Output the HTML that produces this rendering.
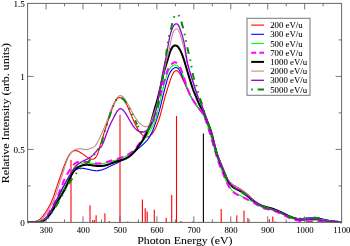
<!DOCTYPE html>
<html><head><meta charset="utf-8"><title>Photon Energy Spectrum</title>
<style>html,body{margin:0;padding:0;background:#fff}svg{display:block}text{font-family:"Liberation Serif","DejaVu Serif",serif;fill:#000;stroke:#000;stroke-width:0.06px}</style></head><body>
<svg width="350" height="246" viewBox="0 0 350 246">
<rect width="350" height="246" fill="#fff"/>
<g><line x1="71.0" y1="222.4" x2="71.0" y2="160" stroke="#ff0000" stroke-width="1.1"/><line x1="90" y1="222.4" x2="90" y2="205.2" stroke="#ff0000" stroke-width="1.1"/><line x1="92.6" y1="222.4" x2="92.6" y2="220.2" stroke="#ff0000" stroke-width="1.1"/><line x1="94.3" y1="222.4" x2="94.3" y2="220" stroke="#ff0000" stroke-width="1.1"/><line x1="96.1" y1="222.4" x2="96.1" y2="215.3" stroke="#ff0000" stroke-width="1.1"/><line x1="104.9" y1="222.4" x2="104.9" y2="213.3" stroke="#ff0000" stroke-width="1.1"/><line x1="109.2" y1="222.4" x2="109.2" y2="221" stroke="#ff0000" stroke-width="1.1"/><line x1="120.0" y1="222.4" x2="120.0" y2="114.8" stroke="#ff0000" stroke-width="1.1"/><line x1="127.8" y1="222.4" x2="127.8" y2="221.6" stroke="#ff0000" stroke-width="1.1"/><line x1="142.4" y1="222.4" x2="142.4" y2="199.4" stroke="#ff0000" stroke-width="1.1"/><line x1="145.2" y1="222.4" x2="145.2" y2="208.2" stroke="#ff0000" stroke-width="1.1"/><line x1="147.2" y1="222.4" x2="147.2" y2="211.5" stroke="#ff0000" stroke-width="1.1"/><line x1="154.3" y1="222.4" x2="154.3" y2="209.8" stroke="#ff0000" stroke-width="1.1"/><line x1="166.2" y1="222.4" x2="166.2" y2="217.8" stroke="#ff0000" stroke-width="1.1"/><line x1="171.7" y1="222.4" x2="171.7" y2="195.1" stroke="#ff0000" stroke-width="1.1"/><line x1="176.5" y1="222.4" x2="176.5" y2="116" stroke="#ff0000" stroke-width="1.1"/><line x1="180.9" y1="222.4" x2="180.9" y2="221" stroke="#ff0000" stroke-width="1.1"/><line x1="192.7" y1="222.4" x2="192.7" y2="221.5" stroke="#ff0000" stroke-width="1.1"/><line x1="203.4" y1="222.4" x2="203.4" y2="133.5" stroke="#000" stroke-width="1.1"/><line x1="221.2" y1="222.4" x2="221.2" y2="209" stroke="#ff0000" stroke-width="1.1"/><line x1="236.8" y1="222.4" x2="236.8" y2="215.2" stroke="#ff0000" stroke-width="1.1"/><line x1="244.0" y1="222.4" x2="244.0" y2="210.6" stroke="#ff0000" stroke-width="1.1"/><line x1="247.9" y1="222.4" x2="247.9" y2="218" stroke="#ff0000" stroke-width="1.1"/><line x1="269.3" y1="222.4" x2="269.3" y2="219.2" stroke="#ff0000" stroke-width="1.1"/><line x1="272.8" y1="222.4" x2="272.8" y2="216.6" stroke="#ff0000" stroke-width="1.1"/><line x1="275.3" y1="222.4" x2="275.3" y2="221.6" stroke="#ff0000" stroke-width="1.1"/><line x1="312.3" y1="222.4" x2="312.3" y2="221" stroke="#ff0000" stroke-width="1.1"/></g>
<g fill="none" stroke-linejoin="round">
<path d="M27.6 222.3 L28.1 222.3 L28.6 222.3 L29.1 222.2 L29.6 222.2 L30.1 222.2 L30.6 222.1 L31.1 222.1 L31.6 222.0 L32.1 222.0 L32.6 221.9 L33.1 221.8 L33.6 221.8 L34.1 221.7 L34.6 221.6 L35.1 221.4 L35.6 221.3 L36.1 221.2 L36.6 221.0 L37.1 220.9 L37.6 220.6 L38.1 220.4 L38.6 220.1 L39.1 219.8 L39.6 219.5 L40.1 219.1 L40.6 218.6 L41.1 218.1 L41.6 217.6 L42.1 217.0 L42.6 216.4 L43.1 215.8 L43.6 215.1 L44.1 214.4 L44.6 213.7 L45.1 213.0 L45.6 212.2 L46.1 211.5 L46.6 210.7 L47.1 209.9 L47.6 209.0 L48.1 208.2 L48.6 207.3 L49.1 206.3 L49.6 205.4 L50.1 204.4 L50.6 203.4 L51.1 202.4 L51.6 201.3 L52.1 200.2 L52.6 199.0 L53.1 197.7 L53.6 196.4 L54.1 195.0 L54.6 193.5 L55.1 192.0 L55.6 190.5 L56.1 188.9 L56.6 187.4 L57.1 185.9 L57.6 184.4 L58.1 182.9 L58.6 181.5 L59.1 180.0 L59.6 178.6 L60.1 177.1 L60.6 175.7 L61.1 174.3 L61.6 172.8 L62.1 171.4 L62.6 170.0 L63.1 168.6 L63.6 167.3 L64.1 165.9 L64.6 164.6 L65.1 163.4 L65.6 162.1 L66.1 161.0 L66.6 159.8 L67.1 158.8 L67.6 157.8 L68.1 156.8 L68.6 155.9 L69.1 155.1 L69.6 154.4 L70.1 153.7 L70.6 153.1 L71.1 152.6 L71.6 152.1 L72.1 151.7 L72.6 151.4 L73.1 151.1 L73.6 150.9 L74.1 150.7 L74.6 150.6 L75.1 150.6 L75.6 150.6 L76.1 150.7 L76.6 150.8 L77.1 150.9 L77.6 151.1 L78.1 151.3 L78.6 151.5 L79.1 151.8 L79.6 152.1 L80.1 152.4 L80.6 152.7 L81.1 153.0 L81.6 153.3 L82.1 153.6 L82.6 153.9 L83.1 154.3 L83.6 154.6 L84.1 155.0 L84.6 155.3 L85.1 155.7 L85.6 156.0 L86.1 156.4 L86.6 156.7 L87.1 157.1 L87.6 157.4 L88.1 157.8 L88.6 158.1 L89.1 158.4 L89.6 158.6 L90.1 158.9 L90.6 159.0 L91.1 159.2 L91.6 159.3 L92.1 159.3 L92.6 159.3 L93.1 159.2 L93.6 159.0 L94.1 158.8 L94.6 158.5 L95.1 158.0 L95.6 157.5 L96.1 156.9 L96.6 156.1 L97.1 155.2 L97.6 154.1 L98.1 152.7 L98.6 151.2 L99.1 149.4 L99.6 147.5 L100.1 145.6 L100.6 143.9 L101.1 142.3 L101.6 140.8 L102.1 139.2 L102.6 137.7 L103.1 136.1 L103.6 134.5 L104.1 132.9 L104.6 131.3 L105.1 129.7 L105.6 128.1 L106.1 126.6 L106.6 125.1 L107.1 123.6 L107.6 122.1 L108.1 120.6 L108.6 119.1 L109.1 117.6 L109.6 116.1 L110.1 114.6 L110.6 113.1 L111.1 111.7 L111.6 110.3 L112.1 108.9 L112.6 107.6 L113.1 106.4 L113.6 105.2 L114.1 104.1 L114.6 103.0 L115.1 102.0 L115.6 101.1 L116.1 100.2 L116.6 99.5 L117.1 98.9 L117.6 98.4 L118.1 98.1 L118.6 97.8 L119.1 97.7 L119.6 97.6 L120.1 97.6 L120.6 97.7 L121.1 97.8 L121.6 98.0 L122.1 98.2 L122.6 98.6 L123.1 99.0 L123.6 99.5 L124.1 100.1 L124.6 100.8 L125.1 101.6 L125.6 102.5 L126.1 103.5 L126.6 104.5 L127.1 105.5 L127.6 106.6 L128.1 107.7 L128.6 108.9 L129.1 110.0 L129.6 111.2 L130.1 112.4 L130.6 113.6 L131.1 114.8 L131.6 116.0 L132.1 117.2 L132.6 118.4 L133.1 119.5 L133.6 120.7 L134.1 121.8 L134.6 122.9 L135.1 124.0 L135.6 125.0 L136.1 126.1 L136.6 127.0 L137.1 128.0 L137.6 128.9 L138.1 129.7 L138.6 130.5 L139.1 131.3 L139.6 132.0 L140.1 132.6 L140.6 133.2 L141.1 133.7 L141.6 134.2 L142.1 134.7 L142.6 135.1 L143.1 135.4 L143.6 135.8 L144.1 136.1 L144.6 136.3 L145.1 136.6 L145.6 136.8 L146.1 136.9 L146.6 137.0 L147.1 137.0 L147.6 137.0 L148.1 136.9 L148.6 136.7 L149.1 136.5 L149.6 136.2 L150.1 135.8 L150.6 135.4 L151.1 134.9 L151.6 134.4 L152.1 133.8 L152.6 133.1 L153.1 132.4 L153.6 131.6 L154.1 130.8 L154.6 129.9 L155.1 128.9 L155.6 127.9 L156.1 126.9 L156.6 125.7 L157.1 124.5 L157.6 123.3 L158.1 121.9 L158.6 120.5 L159.1 119.0 L159.6 117.4 L160.1 115.8 L160.6 114.0 L161.1 112.2 L161.6 110.3 L162.1 108.3 L162.6 106.3 L163.1 104.3 L163.6 102.3 L164.1 100.4 L164.6 98.5 L165.1 96.7 L165.6 95.0 L166.1 93.3 L166.6 91.6 L167.1 90.0 L167.6 88.4 L168.1 86.9 L168.6 85.3 L169.1 83.8 L169.6 82.2 L170.1 80.7 L170.6 79.3 L171.1 77.9 L171.6 76.6 L172.1 75.4 L172.6 74.3 L173.1 73.4 L173.6 72.5 L174.1 71.9 L174.6 71.4 L175.1 71.0 L175.6 70.7 L176.1 70.6 L176.6 70.6 L177.1 70.8 L177.6 71.1 L178.1 71.5 L178.6 72.0 L179.1 72.7 L179.6 73.4 L180.1 74.2 L180.6 75.0 L181.1 75.9 L181.6 76.9 L182.1 77.9 L182.6 79.0 L183.1 80.1 L183.6 81.2 L184.1 82.3 L184.6 83.4 L185.1 84.6 L185.6 85.7 L186.1 86.8 L186.6 87.8 L187.1 88.9 L187.6 89.9 L188.1 91.0 L188.6 92.0 L189.1 93.0 L189.6 94.0 L190.1 95.0 L190.6 95.9 L191.1 96.8 L191.6 97.8 L192.1 98.7 L192.6 99.5 L193.1 100.4 L193.6 101.2 L194.1 102.0 L194.6 102.8 L195.1 103.5 L195.6 104.3 L196.1 105.0 L196.6 105.7 L197.1 106.3 L197.6 107.0 L198.1 107.6 L198.6 108.2 L199.1 108.8 L199.6 109.5 L200.1 110.1 L200.6 110.7 L201.1 111.4 L201.6 112.1 L202.1 112.8 L202.6 113.5 L203.1 114.3 L203.6 115.1 L204.1 115.9 L204.6 116.8 L205.1 117.7 L205.6 118.6 L206.1 119.6 L206.6 120.7 L207.1 121.7 L207.6 122.9 L208.1 124.0 L208.6 125.2 L209.1 126.5 L209.6 127.8 L210.1 129.2 L210.6 130.7 L211.1 132.3 L211.6 134.1 L212.1 135.9 L212.6 137.8 L213.1 139.7 L213.6 141.7 L214.1 143.6 L214.6 145.5 L215.1 147.4 L215.6 149.2 L216.1 150.8 L216.6 152.4 L217.1 153.9 L217.6 155.3 L218.1 156.7 L218.6 158.0 L219.1 159.2 L219.6 160.5 L220.1 161.7 L220.6 162.9 L221.1 164.2 L221.6 165.4 L222.1 166.6 L222.6 167.8 L223.1 169.0 L223.6 170.2 L224.1 171.5 L224.6 172.7 L225.1 173.9 L225.6 175.1 L226.1 176.2 L226.6 177.3 L227.1 178.3 L227.6 179.2 L228.1 180.0 L228.6 180.7 L229.1 181.3 L229.6 181.9 L230.1 182.4 L230.6 182.8 L231.1 183.3 L231.6 183.7 L232.1 184.1 L232.6 184.5 L233.1 184.8 L233.6 185.2 L234.1 185.5 L234.6 185.8 L235.1 186.1 L235.6 186.3 L236.1 186.6 L236.6 186.8 L237.1 187.1 L237.6 187.4 L238.1 187.6 L238.6 187.9 L239.1 188.2 L239.6 188.5 L240.1 188.8 L240.6 189.1 L241.1 189.4 L241.6 189.8 L242.1 190.1 L242.6 190.5 L243.1 190.9 L243.6 191.2 L244.1 191.6 L244.6 192.0 L245.1 192.4 L245.6 192.8 L246.1 193.2 L246.6 193.6 L247.1 194.0 L247.6 194.4 L248.1 194.8 L248.6 195.3 L249.1 195.7 L249.6 196.2 L250.1 196.7 L250.6 197.2 L251.1 197.8 L251.6 198.4 L252.1 199.0 L252.6 199.5 L253.1 200.1 L253.6 200.6 L254.1 201.1 L254.6 201.6 L255.1 202.0 L255.6 202.4 L256.1 202.8 L256.6 203.2 L257.1 203.5 L257.6 203.8 L258.1 204.1 L258.6 204.4 L259.1 204.6 L259.6 204.9 L260.1 205.1 L260.6 205.3 L261.1 205.6 L261.6 205.8 L262.1 206.0 L262.6 206.1 L263.1 206.3 L263.6 206.5 L264.1 206.7 L264.6 206.8 L265.1 207.0 L265.6 207.2 L266.1 207.3 L266.6 207.5 L267.1 207.6 L267.6 207.8 L268.1 207.9 L268.6 208.1 L269.1 208.2 L269.6 208.4 L270.1 208.5 L270.6 208.7 L271.1 208.8 L271.6 209.0 L272.1 209.2 L272.6 209.3 L273.1 209.5 L273.6 209.7 L274.1 209.9 L274.6 210.0 L275.1 210.2 L275.6 210.4 L276.1 210.6 L276.6 210.8 L277.1 211.0 L277.6 211.2 L278.1 211.4 L278.6 211.6 L279.1 211.8 L279.6 212.1 L280.1 212.3 L280.6 212.5 L281.1 212.8 L281.6 213.0 L282.1 213.2 L282.6 213.5 L283.1 213.7 L283.6 213.9 L284.1 214.2 L284.6 214.4 L285.1 214.7 L285.6 214.9 L286.1 215.1 L286.6 215.4 L287.1 215.6 L287.6 215.8 L288.1 216.0 L288.6 216.2 L289.1 216.5 L289.6 216.7 L290.1 216.9 L290.6 217.1 L291.1 217.2 L291.6 217.4 L292.1 217.6 L292.6 217.8 L293.1 217.9 L293.6 218.1 L294.1 218.2 L294.6 218.3 L295.1 218.4 L295.6 218.5 L296.1 218.6 L296.6 218.7 L297.1 218.8 L297.6 218.8 L298.1 218.9 L298.6 218.9 L299.1 218.9 L299.6 219.0 L300.1 219.0 L300.6 219.0 L301.1 219.0 L301.6 219.0 L302.1 219.0 L302.6 219.0 L303.1 219.0 L303.6 219.0 L304.1 219.0 L304.6 219.0 L305.1 219.0 L305.6 218.9 L306.1 218.9 L306.6 218.9 L307.1 218.9 L307.6 218.9 L308.1 218.8 L308.6 218.8 L309.1 218.8 L309.6 218.8 L310.1 218.7 L310.6 218.7 L311.1 218.7 L311.6 218.7 L312.1 218.7 L312.6 218.7 L313.1 218.6 L313.6 218.6 L314.1 218.7 L314.6 218.7 L315.1 218.7 L315.6 218.7 L316.1 218.7 L316.6 218.8 L317.1 218.8 L317.6 218.9 L318.1 218.9 L318.6 219.0 L319.1 219.1 L319.6 219.1 L320.1 219.2 L320.6 219.3 L321.1 219.4 L321.6 219.5 L322.1 219.6 L322.6 219.7 L323.1 219.8 L323.6 219.9 L324.1 220.0 L324.6 220.1 L325.1 220.2 L325.6 220.3 L326.1 220.3 L326.6 220.4 L327.1 220.5 L327.6 220.6 L328.1 220.7 L328.6 220.7 L329.1 220.8 L329.6 220.9 L330.1 221.0 L330.6 221.0 L331.1 221.1 L331.6 221.2 L332.1 221.2 L332.6 221.3 L333.1 221.3 L333.6 221.4 L334.1 221.4 L334.6 221.5 L335.1 221.6 L335.6 221.6 L336.1 221.7 L336.6 221.7 L337.1 221.8 L337.6 221.8 L338.1 221.9 L338.6 221.9 L339.1 222.0 L339.6 222.0 L340.1 222.1 L340.6 222.1 L341.1 222.2 L341.5 222.2" stroke="#ff0000" stroke-width="1.1"/>
<path d="M27.6 222.3 L28.1 222.2 L28.6 222.1 L29.1 222.0 L29.6 222.0 L30.1 221.9 L30.6 221.9 L31.1 221.9 L31.6 221.9 L32.1 221.9 L32.6 221.9 L33.1 221.9 L33.6 222.0 L34.1 222.0 L34.6 222.0 L35.1 222.0 L35.6 222.0 L36.1 222.0 L36.6 222.0 L37.1 222.0 L37.6 222.0 L38.1 221.9 L38.6 221.9 L39.1 221.8 L39.6 221.7 L40.1 221.6 L40.6 221.4 L41.1 221.2 L41.6 221.0 L42.1 220.8 L42.6 220.6 L43.1 220.3 L43.6 219.9 L44.1 219.6 L44.6 219.2 L45.1 218.7 L45.6 218.2 L46.1 217.7 L46.6 217.1 L47.1 216.5 L47.6 215.8 L48.1 215.1 L48.6 214.4 L49.1 213.7 L49.6 212.9 L50.1 212.1 L50.6 211.3 L51.1 210.5 L51.6 209.7 L52.1 208.8 L52.6 207.9 L53.1 207.0 L53.6 206.0 L54.1 205.0 L54.6 204.0 L55.1 203.0 L55.6 202.0 L56.1 201.1 L56.6 200.1 L57.1 199.2 L57.6 198.3 L58.1 197.4 L58.6 196.5 L59.1 195.6 L59.6 194.7 L60.1 193.8 L60.6 192.8 L61.1 191.8 L61.6 190.7 L62.1 189.6 L62.6 188.5 L63.1 187.4 L63.6 186.4 L64.1 185.3 L64.6 184.3 L65.1 183.3 L65.6 182.4 L66.1 181.5 L66.6 180.7 L67.1 179.9 L67.6 179.2 L68.1 178.5 L68.6 177.8 L69.1 177.2 L69.6 176.5 L70.1 175.9 L70.6 175.2 L71.1 174.6 L71.6 174.0 L72.1 173.4 L72.6 172.8 L73.1 172.3 L73.6 171.8 L74.1 171.3 L74.6 170.8 L75.1 170.4 L75.6 170.1 L76.1 169.7 L76.6 169.4 L77.1 169.2 L77.6 169.0 L78.1 168.8 L78.6 168.6 L79.1 168.5 L79.6 168.4 L80.1 168.4 L80.6 168.3 L81.1 168.3 L81.6 168.3 L82.1 168.3 L82.6 168.3 L83.1 168.4 L83.6 168.4 L84.1 168.5 L84.6 168.6 L85.1 168.7 L85.6 168.8 L86.1 168.9 L86.6 169.0 L87.1 169.1 L87.6 169.2 L88.1 169.3 L88.6 169.4 L89.1 169.6 L89.6 169.7 L90.1 169.8 L90.6 169.9 L91.1 170.0 L91.6 170.1 L92.1 170.2 L92.6 170.3 L93.1 170.4 L93.6 170.5 L94.1 170.5 L94.6 170.6 L95.1 170.6 L95.6 170.7 L96.1 170.7 L96.6 170.7 L97.1 170.7 L97.6 170.7 L98.1 170.6 L98.6 170.6 L99.1 170.5 L99.6 170.4 L100.1 170.3 L100.6 170.2 L101.1 170.1 L101.6 170.0 L102.1 169.8 L102.6 169.6 L103.1 169.5 L103.6 169.3 L104.1 169.1 L104.6 168.9 L105.1 168.7 L105.6 168.4 L106.1 168.2 L106.6 168.0 L107.1 167.7 L107.6 167.5 L108.1 167.2 L108.6 167.0 L109.1 166.7 L109.6 166.5 L110.1 166.2 L110.6 166.0 L111.1 165.8 L111.6 165.5 L112.1 165.3 L112.6 165.0 L113.1 164.8 L113.6 164.6 L114.1 164.4 L114.6 164.1 L115.1 163.9 L115.6 163.7 L116.1 163.4 L116.6 163.2 L117.1 163.0 L117.6 162.7 L118.1 162.4 L118.6 162.2 L119.1 161.9 L119.6 161.6 L120.1 161.4 L120.6 161.1 L121.1 160.8 L121.6 160.5 L122.1 160.2 L122.6 159.9 L123.1 159.6 L123.6 159.3 L124.1 159.0 L124.6 158.7 L125.1 158.4 L125.6 158.1 L126.1 157.8 L126.6 157.5 L127.1 157.2 L127.6 156.9 L128.1 156.6 L128.6 156.3 L129.1 156.0 L129.6 155.7 L130.1 155.3 L130.6 155.0 L131.1 154.6 L131.6 154.3 L132.1 153.9 L132.6 153.5 L133.1 153.2 L133.6 152.8 L134.1 152.3 L134.6 151.9 L135.1 151.5 L135.6 151.1 L136.1 150.6 L136.6 150.2 L137.1 149.7 L137.6 149.3 L138.1 148.8 L138.6 148.4 L139.1 147.9 L139.6 147.5 L140.1 147.0 L140.6 146.6 L141.1 146.1 L141.6 145.7 L142.1 145.2 L142.6 144.8 L143.1 144.3 L143.6 143.8 L144.1 143.4 L144.6 142.9 L145.1 142.4 L145.6 141.9 L146.1 141.4 L146.6 140.9 L147.1 140.3 L147.6 139.7 L148.1 139.0 L148.6 138.4 L149.1 137.6 L149.6 136.8 L150.1 136.0 L150.6 135.0 L151.1 134.1 L151.6 133.0 L152.1 131.9 L152.6 130.8 L153.1 129.5 L153.6 128.2 L154.1 126.9 L154.6 125.5 L155.1 124.1 L155.6 122.7 L156.1 121.2 L156.6 119.7 L157.1 118.2 L157.6 116.7 L158.1 115.1 L158.6 113.4 L159.1 111.7 L159.6 109.8 L160.1 107.9 L160.6 105.9 L161.1 103.8 L161.6 101.7 L162.1 99.6 L162.6 97.5 L163.1 95.5 L163.6 93.5 L164.1 91.5 L164.6 89.6 L165.1 87.6 L165.6 85.7 L166.1 83.8 L166.6 82.0 L167.1 80.2 L167.6 78.6 L168.1 77.1 L168.6 75.7 L169.1 74.5 L169.6 73.4 L170.1 72.5 L170.6 71.6 L171.1 70.9 L171.6 70.2 L172.1 69.7 L172.6 69.2 L173.1 68.7 L173.6 68.4 L174.1 68.1 L174.6 67.8 L175.1 67.7 L175.6 67.6 L176.1 67.6 L176.6 67.7 L177.1 67.8 L177.6 68.1 L178.1 68.5 L178.6 69.0 L179.1 69.7 L179.6 70.5 L180.1 71.4 L180.6 72.5 L181.1 73.6 L181.6 74.7 L182.1 75.8 L182.6 76.9 L183.1 77.9 L183.6 79.0 L184.1 80.1 L184.6 81.2 L185.1 82.5 L185.6 83.9 L186.1 85.3 L186.6 86.7 L187.1 88.1 L187.6 89.5 L188.1 90.8 L188.6 92.0 L189.1 93.2 L189.6 94.3 L190.1 95.3 L190.6 96.3 L191.1 97.2 L191.6 98.1 L192.1 99.0 L192.6 99.8 L193.1 100.6 L193.6 101.4 L194.1 102.2 L194.6 102.9 L195.1 103.6 L195.6 104.3 L196.1 105.0 L196.6 105.7 L197.1 106.3 L197.6 107.0 L198.1 107.6 L198.6 108.2 L199.1 108.9 L199.6 109.5 L200.1 110.1 L200.6 110.8 L201.1 111.4 L201.6 112.0 L202.1 112.6 L202.6 113.3 L203.1 114.0 L203.6 114.7 L204.1 115.5 L204.6 116.3 L205.1 117.2 L205.6 118.1 L206.1 119.1 L206.6 120.1 L207.1 121.2 L207.6 122.4 L208.1 123.5 L208.6 124.8 L209.1 126.0 L209.6 127.3 L210.1 128.6 L210.6 130.1 L211.1 131.7 L211.6 133.4 L212.1 135.2 L212.6 137.2 L213.1 139.2 L213.6 141.2 L214.1 143.3 L214.6 145.3 L215.1 147.2 L215.6 149.1 L216.1 150.9 L216.6 152.6 L217.1 154.2 L217.6 155.7 L218.1 157.1 L218.6 158.4 L219.1 159.7 L219.6 161.0 L220.1 162.3 L220.6 163.5 L221.1 164.7 L221.6 165.9 L222.1 167.1 L222.6 168.3 L223.1 169.5 L223.6 170.7 L224.1 172.0 L224.6 173.3 L225.1 174.5 L225.6 175.7 L226.1 176.9 L226.6 178.1 L227.1 179.2 L227.6 180.2 L228.1 181.2 L228.6 182.0 L229.1 182.8 L229.6 183.6 L230.1 184.3 L230.6 184.9 L231.1 185.5 L231.6 186.0 L232.1 186.5 L232.6 186.9 L233.1 187.3 L233.6 187.7 L234.1 188.1 L234.6 188.4 L235.1 188.7 L235.6 189.0 L236.1 189.3 L236.6 189.5 L237.1 189.8 L237.6 190.0 L238.1 190.2 L238.6 190.5 L239.1 190.7 L239.6 191.0 L240.1 191.3 L240.6 191.5 L241.1 191.8 L241.6 192.1 L242.1 192.4 L242.6 192.8 L243.1 193.1 L243.6 193.5 L244.1 193.8 L244.6 194.2 L245.1 194.6 L245.6 194.9 L246.1 195.3 L246.6 195.7 L247.1 196.1 L247.6 196.5 L248.1 196.9 L248.6 197.3 L249.1 197.8 L249.6 198.2 L250.1 198.6 L250.6 199.0 L251.1 199.4 L251.6 199.8 L252.1 200.2 L252.6 200.6 L253.1 201.0 L253.6 201.4 L254.1 201.8 L254.6 202.2 L255.1 202.6 L255.6 202.9 L256.1 203.3 L256.6 203.6 L257.1 204.0 L257.6 204.3 L258.1 204.6 L258.6 204.9 L259.1 205.2 L259.6 205.5 L260.1 205.7 L260.6 206.0 L261.1 206.2 L261.6 206.5 L262.1 206.7 L262.6 206.9 L263.1 207.0 L263.6 207.2 L264.1 207.4 L264.6 207.5 L265.1 207.7 L265.6 207.8 L266.1 207.9 L266.6 208.1 L267.1 208.2 L267.6 208.3 L268.1 208.4 L268.6 208.6 L269.1 208.7 L269.6 208.8 L270.1 208.9 L270.6 209.1 L271.1 209.2 L271.6 209.3 L272.1 209.5 L272.6 209.6 L273.1 209.8 L273.6 209.9 L274.1 210.1 L274.6 210.3 L275.1 210.5 L275.6 210.6 L276.1 210.8 L276.6 211.0 L277.1 211.2 L277.6 211.4 L278.1 211.6 L278.6 211.8 L279.1 212.0 L279.6 212.3 L280.1 212.5 L280.6 212.7 L281.1 213.0 L281.6 213.2 L282.1 213.4 L282.6 213.7 L283.1 213.9 L283.6 214.1 L284.1 214.4 L284.6 214.6 L285.1 214.9 L285.6 215.1 L286.1 215.3 L286.6 215.6 L287.1 215.8 L287.6 216.0 L288.1 216.2 L288.6 216.4 L289.1 216.6 L289.6 216.8 L290.1 217.0 L290.6 217.2 L291.1 217.4 L291.6 217.6 L292.1 217.7 L292.6 217.9 L293.1 218.0 L293.6 218.1 L294.1 218.2 L294.6 218.3 L295.1 218.4 L295.6 218.5 L296.1 218.5 L296.6 218.6 L297.1 218.6 L297.6 218.6 L298.1 218.6 L298.6 218.6 L299.1 218.6 L299.6 218.6 L300.1 218.6 L300.6 218.6 L301.1 218.6 L301.6 218.5 L302.1 218.5 L302.6 218.5 L303.1 218.4 L303.6 218.4 L304.1 218.3 L304.6 218.3 L305.1 218.2 L305.6 218.2 L306.1 218.1 L306.6 218.1 L307.1 218.0 L307.6 218.0 L308.1 218.0 L308.6 217.9 L309.1 217.9 L309.6 217.8 L310.1 217.8 L310.6 217.8 L311.1 217.7 L311.6 217.7 L312.1 217.7 L312.6 217.7 L313.1 217.7 L313.6 217.7 L314.1 217.7 L314.6 217.7 L315.1 217.7 L315.6 217.8 L316.1 217.8 L316.6 217.9 L317.1 217.9 L317.6 218.0 L318.1 218.1 L318.6 218.1 L319.1 218.2 L319.6 218.3 L320.1 218.4 L320.6 218.6 L321.1 218.7 L321.6 218.8 L322.1 218.9 L322.6 219.0 L323.1 219.2 L323.6 219.3 L324.1 219.4 L324.6 219.5 L325.1 219.7 L325.6 219.8 L326.1 219.9 L326.6 220.0 L327.1 220.1 L327.6 220.2 L328.1 220.3 L328.6 220.4 L329.1 220.5 L329.6 220.6 L330.1 220.7 L330.6 220.8 L331.1 220.9 L331.6 221.0 L332.1 221.1 L332.6 221.1 L333.1 221.2 L333.6 221.3 L334.1 221.4 L334.6 221.4 L335.1 221.5 L335.6 221.6 L336.1 221.6 L336.6 221.7 L337.1 221.8 L337.6 221.8 L338.1 221.9 L338.6 221.9 L339.1 222.0 L339.6 222.0 L340.1 222.1 L340.6 222.1 L341.1 222.2 L341.5 222.2" stroke="#0000ff" stroke-width="1.1"/>
<path d="M27.6 222.3 L28.1 222.2 L28.6 222.1 L29.1 222.0 L29.6 221.9 L30.1 221.9 L30.6 221.9 L31.1 221.9 L31.6 221.9 L32.1 221.9 L32.6 221.9 L33.1 221.9 L33.6 221.9 L34.1 222.0 L34.6 222.0 L35.1 222.0 L35.6 222.0 L36.1 222.0 L36.6 222.0 L37.1 222.0 L37.6 222.0 L38.1 222.0 L38.6 222.0 L39.1 221.9 L39.6 221.8 L40.1 221.7 L40.6 221.6 L41.1 221.4 L41.6 221.3 L42.1 221.1 L42.6 220.8 L43.1 220.5 L43.6 220.2 L44.1 219.9 L44.6 219.5 L45.1 219.1 L45.6 218.7 L46.1 218.2 L46.6 217.7 L47.1 217.1 L47.6 216.5 L48.1 215.9 L48.6 215.2 L49.1 214.5 L49.6 213.8 L50.1 213.1 L50.6 212.3 L51.1 211.5 L51.6 210.7 L52.1 209.8 L52.6 208.9 L53.1 208.1 L53.6 207.2 L54.1 206.2 L54.6 205.3 L55.1 204.4 L55.6 203.4 L56.1 202.5 L56.6 201.6 L57.1 200.6 L57.6 199.7 L58.1 198.9 L58.6 198.0 L59.1 197.2 L59.6 196.3 L60.1 195.5 L60.6 194.7 L61.1 193.9 L61.6 193.0 L62.1 192.2 L62.6 191.3 L63.1 190.4 L63.6 189.4 L64.1 188.5 L64.6 187.5 L65.1 186.5 L65.6 185.4 L66.1 184.4 L66.6 183.3 L67.1 182.2 L67.6 181.1 L68.1 180.0 L68.6 178.9 L69.1 177.8 L69.6 176.6 L70.1 175.5 L70.6 174.4 L71.1 173.3 L71.6 172.3 L72.1 171.2 L72.6 170.3 L73.1 169.3 L73.6 168.4 L74.1 167.6 L74.6 166.9 L75.1 166.2 L75.6 165.6 L76.1 165.0 L76.6 164.6 L77.1 164.2 L77.6 163.9 L78.1 163.7 L78.6 163.6 L79.1 163.5 L79.6 163.4 L80.1 163.3 L80.6 163.3 L81.1 163.3 L81.6 163.3 L82.1 163.2 L82.6 163.2 L83.1 163.2 L83.6 163.1 L84.1 163.1 L84.6 163.1 L85.1 163.0 L85.6 163.0 L86.1 163.0 L86.6 163.0 L87.1 163.0 L87.6 163.0 L88.1 163.0 L88.6 163.0 L89.1 163.1 L89.6 163.1 L90.1 163.2 L90.6 163.2 L91.1 163.3 L91.6 163.3 L92.1 163.4 L92.6 163.5 L93.1 163.6 L93.6 163.6 L94.1 163.7 L94.6 163.8 L95.1 163.8 L95.6 163.9 L96.1 163.9 L96.6 164.0 L97.1 164.0 L97.6 164.0 L98.1 164.0 L98.6 164.0 L99.1 164.0 L99.6 164.0 L100.1 164.0 L100.6 164.0 L101.1 163.9 L101.6 163.8 L102.1 163.8 L102.6 163.7 L103.1 163.6 L103.6 163.5 L104.1 163.4 L104.6 163.3 L105.1 163.2 L105.6 163.1 L106.1 162.9 L106.6 162.8 L107.1 162.6 L107.6 162.5 L108.1 162.4 L108.6 162.2 L109.1 162.1 L109.6 161.9 L110.1 161.8 L110.6 161.6 L111.1 161.5 L111.6 161.3 L112.1 161.2 L112.6 161.0 L113.1 160.9 L113.6 160.8 L114.1 160.6 L114.6 160.5 L115.1 160.3 L115.6 160.2 L116.1 160.1 L116.6 159.9 L117.1 159.8 L117.6 159.6 L118.1 159.5 L118.6 159.3 L119.1 159.1 L119.6 158.9 L120.1 158.8 L120.6 158.6 L121.1 158.4 L121.6 158.2 L122.1 158.0 L122.6 157.8 L123.1 157.5 L123.6 157.3 L124.1 157.1 L124.6 156.8 L125.1 156.6 L125.6 156.4 L126.1 156.1 L126.6 155.9 L127.1 155.6 L127.6 155.4 L128.1 155.1 L128.6 154.8 L129.1 154.6 L129.6 154.3 L130.1 154.0 L130.6 153.7 L131.1 153.4 L131.6 153.1 L132.1 152.7 L132.6 152.3 L133.1 151.9 L133.6 151.5 L134.1 151.0 L134.6 150.5 L135.1 150.0 L135.6 149.5 L136.1 148.9 L136.6 148.4 L137.1 147.9 L137.6 147.4 L138.1 146.9 L138.6 146.4 L139.1 145.9 L139.6 145.4 L140.1 144.8 L140.6 144.3 L141.1 143.7 L141.6 143.1 L142.1 142.5 L142.6 141.8 L143.1 141.2 L143.6 140.5 L144.1 139.8 L144.6 139.0 L145.1 138.3 L145.6 137.6 L146.1 136.9 L146.6 136.1 L147.1 135.4 L147.6 134.7 L148.1 134.0 L148.6 133.2 L149.1 132.5 L149.6 131.7 L150.1 130.8 L150.6 129.9 L151.1 129.0 L151.6 128.1 L152.1 127.2 L152.6 126.2 L153.1 125.3 L153.6 124.4 L154.1 123.4 L154.6 122.3 L155.1 121.0 L155.6 119.5 L156.1 117.7 L156.6 115.8 L157.1 113.8 L157.6 111.7 L158.1 109.6 L158.6 107.5 L159.1 105.5 L159.6 103.4 L160.1 101.3 L160.6 99.1 L161.1 96.9 L161.6 94.7 L162.1 92.5 L162.6 90.4 L163.1 88.4 L163.6 86.4 L164.1 84.6 L164.6 82.8 L165.1 81.0 L165.6 79.3 L166.1 77.7 L166.6 76.1 L167.1 74.6 L167.6 73.2 L168.1 71.9 L168.6 70.8 L169.1 69.8 L169.6 69.0 L170.1 68.2 L170.6 67.6 L171.1 67.1 L171.6 66.6 L172.1 66.2 L172.6 65.8 L173.1 65.5 L173.6 65.3 L174.1 65.1 L174.6 65.0 L175.1 65.0 L175.6 65.1 L176.1 65.2 L176.6 65.4 L177.1 65.7 L177.6 66.1 L178.1 66.5 L178.6 67.0 L179.1 67.6 L179.6 68.2 L180.1 68.9 L180.6 69.7 L181.1 70.7 L181.6 71.7 L182.1 72.9 L182.6 74.2 L183.1 75.5 L183.6 77.0 L184.1 78.5 L184.6 80.0 L185.1 81.6 L185.6 83.1 L186.1 84.7 L186.6 86.3 L187.1 87.7 L187.6 89.2 L188.1 90.5 L188.6 91.8 L189.1 93.0 L189.6 94.1 L190.1 95.1 L190.6 96.1 L191.1 97.1 L191.6 97.9 L192.1 98.8 L192.6 99.7 L193.1 100.5 L193.6 101.3 L194.1 102.0 L194.6 102.8 L195.1 103.5 L195.6 104.2 L196.1 104.9 L196.6 105.5 L197.1 106.2 L197.6 106.8 L198.1 107.5 L198.6 108.1 L199.1 108.7 L199.6 109.4 L200.1 110.0 L200.6 110.7 L201.1 111.4 L201.6 112.2 L202.1 112.9 L202.6 113.8 L203.1 114.7 L203.6 115.6 L204.1 116.6 L204.6 117.7 L205.1 118.9 L205.6 120.2 L206.1 121.5 L206.6 122.9 L207.1 124.4 L207.6 125.9 L208.1 127.5 L208.6 129.1 L209.1 130.7 L209.6 132.3 L210.1 134.0 L210.6 135.6 L211.1 137.3 L211.6 139.0 L212.1 140.7 L212.6 142.4 L213.1 144.2 L213.6 145.9 L214.1 147.6 L214.6 149.3 L215.1 151.1 L215.6 152.8 L216.1 154.5 L216.6 156.2 L217.1 157.8 L217.6 159.4 L218.1 160.9 L218.6 162.4 L219.1 163.7 L219.6 165.1 L220.1 166.3 L220.6 167.6 L221.1 168.8 L221.6 170.0 L222.1 171.2 L222.6 172.5 L223.1 173.7 L223.6 174.9 L224.1 176.2 L224.6 177.4 L225.1 178.5 L225.6 179.7 L226.1 180.8 L226.6 181.8 L227.1 182.8 L227.6 183.8 L228.1 184.7 L228.6 185.6 L229.1 186.4 L229.6 187.2 L230.1 187.9 L230.6 188.6 L231.1 189.2 L231.6 189.8 L232.1 190.4 L232.6 190.9 L233.1 191.3 L233.6 191.7 L234.1 192.1 L234.6 192.5 L235.1 192.9 L235.6 193.2 L236.1 193.5 L236.6 193.8 L237.1 194.1 L237.6 194.3 L238.1 194.6 L238.6 194.8 L239.1 195.1 L239.6 195.3 L240.1 195.5 L240.6 195.8 L241.1 196.0 L241.6 196.2 L242.1 196.4 L242.6 196.7 L243.1 196.9 L243.6 197.1 L244.1 197.4 L244.6 197.7 L245.1 197.9 L245.6 198.2 L246.1 198.5 L246.6 198.7 L247.1 199.0 L247.6 199.2 L248.1 199.5 L248.6 199.7 L249.1 200.0 L249.6 200.2 L250.1 200.4 L250.6 200.7 L251.1 200.9 L251.6 201.1 L252.1 201.4 L252.6 201.6 L253.1 201.9 L253.6 202.2 L254.1 202.5 L254.6 202.8 L255.1 203.1 L255.6 203.4 L256.1 203.7 L256.6 204.0 L257.1 204.3 L257.6 204.7 L258.1 205.0 L258.6 205.3 L259.1 205.6 L259.6 205.9 L260.1 206.2 L260.6 206.5 L261.1 206.7 L261.6 207.0 L262.1 207.2 L262.6 207.4 L263.1 207.6 L263.6 207.7 L264.1 207.9 L264.6 208.0 L265.1 208.2 L265.6 208.3 L266.1 208.4 L266.6 208.5 L267.1 208.7 L267.6 208.8 L268.1 208.9 L268.6 209.0 L269.1 209.1 L269.6 209.2 L270.1 209.3 L270.6 209.5 L271.1 209.6 L271.6 209.7 L272.1 209.9 L272.6 210.0 L273.1 210.2 L273.6 210.4 L274.1 210.5 L274.6 210.7 L275.1 210.9 L275.6 211.1 L276.1 211.3 L276.6 211.5 L277.1 211.7 L277.6 211.9 L278.1 212.1 L278.6 212.3 L279.1 212.6 L279.6 212.8 L280.1 213.0 L280.6 213.3 L281.1 213.5 L281.6 213.7 L282.1 214.0 L282.6 214.2 L283.1 214.5 L283.6 214.7 L284.1 214.9 L284.6 215.2 L285.1 215.4 L285.6 215.7 L286.1 215.9 L286.6 216.2 L287.1 216.4 L287.6 216.6 L288.1 216.8 L288.6 217.1 L289.1 217.3 L289.6 217.5 L290.1 217.7 L290.6 217.9 L291.1 218.1 L291.6 218.3 L292.1 218.4 L292.6 218.6 L293.1 218.7 L293.6 218.9 L294.1 219.0 L294.6 219.1 L295.1 219.2 L295.6 219.3 L296.1 219.4 L296.6 219.5 L297.1 219.6 L297.6 219.7 L298.1 219.8 L298.6 219.8 L299.1 219.9 L299.6 220.0 L300.1 220.0 L300.6 220.1 L301.1 220.1 L301.6 220.2 L302.1 220.2 L302.6 220.2 L303.1 220.3 L303.6 220.3 L304.1 220.3 L304.6 220.3 L305.1 220.3 L305.6 220.3 L306.1 220.3 L306.6 220.3 L307.1 220.3 L307.6 220.3 L308.1 220.3 L308.6 220.3 L309.1 220.3 L309.6 220.2 L310.1 220.2 L310.6 220.2 L311.1 220.2 L311.6 220.2 L312.1 220.2 L312.6 220.2 L313.1 220.2 L313.6 220.2 L314.1 220.2 L314.6 220.2 L315.1 220.2 L315.6 220.2 L316.1 220.2 L316.6 220.3 L317.1 220.3 L317.6 220.3 L318.1 220.3 L318.6 220.3 L319.1 220.4 L319.6 220.4 L320.1 220.4 L320.6 220.5 L321.1 220.5 L321.6 220.5 L322.1 220.6 L322.6 220.6 L323.1 220.6 L323.6 220.7 L324.1 220.7 L324.6 220.8 L325.1 220.8 L325.6 220.9 L326.1 220.9 L326.6 220.9 L327.1 221.0 L327.6 221.0 L328.1 221.1 L328.6 221.1 L329.1 221.2 L329.6 221.2 L330.1 221.3 L330.6 221.3 L331.1 221.4 L331.6 221.4 L332.1 221.5 L332.6 221.5 L333.1 221.6 L333.6 221.6 L334.1 221.6 L334.6 221.7 L335.1 221.7 L335.6 221.8 L336.1 221.8 L336.6 221.9 L337.1 221.9 L337.6 221.9 L338.1 222.0 L338.6 222.0 L339.1 222.1 L339.6 222.1 L340.1 222.1 L340.6 222.1 L341.1 222.2 L341.5 222.2" stroke="#00ff00" stroke-width="1.1"/>
<path d="M27.6 222.3 L28.1 222.2 L28.6 222.1 L29.1 222.0 L29.6 222.0 L30.1 221.9 L30.6 221.9 L31.1 221.9 L31.6 221.9 L32.1 221.9 L32.6 221.9 L33.1 221.9 L33.6 222.0 L34.1 222.0 L34.6 222.0 L35.1 222.0 L35.6 222.0 L36.1 222.0 L36.6 222.0 L37.1 222.0 L37.6 221.9 L38.1 221.9 L38.6 221.8 L39.1 221.7 L39.6 221.6 L40.1 221.4 L40.6 221.3 L41.1 221.1 L41.6 220.8 L42.1 220.6 L42.6 220.3 L43.1 220.0 L43.6 219.6 L44.1 219.2 L44.6 218.7 L45.1 218.2 L45.6 217.7 L46.1 217.1 L46.6 216.5 L47.1 215.8 L47.6 215.1 L48.1 214.3 L48.6 213.5 L49.1 212.7 L49.6 211.9 L50.1 211.0 L50.6 210.1 L51.1 209.2 L51.6 208.3 L52.1 207.4 L52.6 206.4 L53.1 205.5 L53.6 204.5 L54.1 203.5 L54.6 202.5 L55.1 201.5 L55.6 200.5 L56.1 199.5 L56.6 198.4 L57.1 197.4 L57.6 196.3 L58.1 195.1 L58.6 193.9 L59.1 192.7 L59.6 191.4 L60.1 190.1 L60.6 188.8 L61.1 187.5 L61.6 186.1 L62.1 184.8 L62.6 183.6 L63.1 182.3 L63.6 181.2 L64.1 180.1 L64.6 179.0 L65.1 178.0 L65.6 177.1 L66.1 176.2 L66.6 175.3 L67.1 174.4 L67.6 173.6 L68.1 172.7 L68.6 171.9 L69.1 171.1 L69.6 170.2 L70.1 169.4 L70.6 168.6 L71.1 167.8 L71.6 167.1 L72.1 166.4 L72.6 165.7 L73.1 165.1 L73.6 164.6 L74.1 164.1 L74.6 163.6 L75.1 163.3 L75.6 163.0 L76.1 162.7 L76.6 162.5 L77.1 162.3 L77.6 162.2 L78.1 162.1 L78.6 162.0 L79.1 162.0 L79.6 161.9 L80.1 161.9 L80.6 161.9 L81.1 161.9 L81.6 161.8 L82.1 161.8 L82.6 161.8 L83.1 161.8 L83.6 161.8 L84.1 161.8 L84.6 161.8 L85.1 161.8 L85.6 161.9 L86.1 161.9 L86.6 161.9 L87.1 161.9 L87.6 162.0 L88.1 162.0 L88.6 162.1 L89.1 162.1 L89.6 162.2 L90.1 162.3 L90.6 162.3 L91.1 162.4 L91.6 162.5 L92.1 162.6 L92.6 162.7 L93.1 162.8 L93.6 162.9 L94.1 163.0 L94.6 163.1 L95.1 163.2 L95.6 163.3 L96.1 163.3 L96.6 163.4 L97.1 163.5 L97.6 163.5 L98.1 163.5 L98.6 163.5 L99.1 163.5 L99.6 163.5 L100.1 163.4 L100.6 163.4 L101.1 163.3 L101.6 163.2 L102.1 163.2 L102.6 163.1 L103.1 163.0 L103.6 162.8 L104.1 162.7 L104.6 162.6 L105.1 162.5 L105.6 162.3 L106.1 162.2 L106.6 162.1 L107.1 161.9 L107.6 161.8 L108.1 161.6 L108.6 161.5 L109.1 161.3 L109.6 161.1 L110.1 161.0 L110.6 160.8 L111.1 160.7 L111.6 160.5 L112.1 160.4 L112.6 160.2 L113.1 160.1 L113.6 159.9 L114.1 159.8 L114.6 159.7 L115.1 159.5 L115.6 159.4 L116.1 159.2 L116.6 159.1 L117.1 158.9 L117.6 158.8 L118.1 158.6 L118.6 158.5 L119.1 158.3 L119.6 158.1 L120.1 158.0 L120.6 157.8 L121.1 157.6 L121.6 157.4 L122.1 157.2 L122.6 157.0 L123.1 156.8 L123.6 156.6 L124.1 156.4 L124.6 156.2 L125.1 155.9 L125.6 155.7 L126.1 155.5 L126.6 155.2 L127.1 155.0 L127.6 154.7 L128.1 154.4 L128.6 154.1 L129.1 153.8 L129.6 153.5 L130.1 153.2 L130.6 152.9 L131.1 152.5 L131.6 152.2 L132.1 151.8 L132.6 151.4 L133.1 150.9 L133.6 150.4 L134.1 149.9 L134.6 149.4 L135.1 148.9 L135.6 148.3 L136.1 147.7 L136.6 147.1 L137.1 146.5 L137.6 145.9 L138.1 145.2 L138.6 144.5 L139.1 143.8 L139.6 143.1 L140.1 142.4 L140.6 141.6 L141.1 140.8 L141.6 140.1 L142.1 139.3 L142.6 138.4 L143.1 137.6 L143.6 136.8 L144.1 135.9 L144.6 135.1 L145.1 134.2 L145.6 133.3 L146.1 132.4 L146.6 131.6 L147.1 130.7 L147.6 129.8 L148.1 128.9 L148.6 128.0 L149.1 127.1 L149.6 126.2 L150.1 125.3 L150.6 124.4 L151.1 123.6 L151.6 122.6 L152.1 121.7 L152.6 120.6 L153.1 119.5 L153.6 118.2 L154.1 116.9 L154.6 115.5 L155.1 114.0 L155.6 112.4 L156.1 110.8 L156.6 109.2 L157.1 107.6 L157.6 105.9 L158.1 104.1 L158.6 102.2 L159.1 100.2 L159.6 98.1 L160.1 95.9 L160.6 93.7 L161.1 91.6 L161.6 89.6 L162.1 87.8 L162.6 86.1 L163.1 84.4 L163.6 82.9 L164.1 81.3 L164.6 79.7 L165.1 78.0 L165.6 76.3 L166.1 74.7 L166.6 73.1 L167.1 71.6 L167.6 70.3 L168.1 69.1 L168.6 68.0 L169.1 67.2 L169.6 66.4 L170.1 65.7 L170.6 65.1 L171.1 64.6 L171.6 64.1 L172.1 63.6 L172.6 63.2 L173.1 62.9 L173.6 62.6 L174.1 62.4 L174.6 62.3 L175.1 62.3 L175.6 62.4 L176.1 62.6 L176.6 62.9 L177.1 63.3 L177.6 63.8 L178.1 64.3 L178.6 65.0 L179.1 65.7 L179.6 66.5 L180.1 67.4 L180.6 68.4 L181.1 69.5 L181.6 70.8 L182.1 72.1 L182.6 73.5 L183.1 75.0 L183.6 76.5 L184.1 78.1 L184.6 79.7 L185.1 81.3 L185.6 82.9 L186.1 84.5 L186.6 86.0 L187.1 87.5 L187.6 88.9 L188.1 90.3 L188.6 91.5 L189.1 92.7 L189.6 93.8 L190.1 94.8 L190.6 95.8 L191.1 96.7 L191.6 97.6 L192.1 98.5 L192.6 99.3 L193.1 100.1 L193.6 100.9 L194.1 101.7 L194.6 102.4 L195.1 103.2 L195.6 103.9 L196.1 104.6 L196.6 105.3 L197.1 105.9 L197.6 106.6 L198.1 107.2 L198.6 107.9 L199.1 108.5 L199.6 109.1 L200.1 109.8 L200.6 110.5 L201.1 111.1 L201.6 111.8 L202.1 112.6 L202.6 113.4 L203.1 114.2 L203.6 115.1 L204.1 116.1 L204.6 117.2 L205.1 118.4 L205.6 119.7 L206.1 121.1 L206.6 122.6 L207.1 124.1 L207.6 125.7 L208.1 127.3 L208.6 129.0 L209.1 130.7 L209.6 132.3 L210.1 134.0 L210.6 135.7 L211.1 137.4 L211.6 139.1 L212.1 140.8 L212.6 142.5 L213.1 144.2 L213.6 145.9 L214.1 147.6 L214.6 149.3 L215.1 151.1 L215.6 152.8 L216.1 154.5 L216.6 156.2 L217.1 157.8 L217.6 159.4 L218.1 160.9 L218.6 162.4 L219.1 163.7 L219.6 165.1 L220.1 166.3 L220.6 167.6 L221.1 168.8 L221.6 170.0 L222.1 171.2 L222.6 172.5 L223.1 173.7 L223.6 174.9 L224.1 176.1 L224.6 177.3 L225.1 178.5 L225.6 179.7 L226.1 180.8 L226.6 181.9 L227.1 183.0 L227.6 184.0 L228.1 185.0 L228.6 186.0 L229.1 186.9 L229.6 187.7 L230.1 188.4 L230.6 189.1 L231.1 189.8 L231.6 190.4 L232.1 190.9 L232.6 191.4 L233.1 191.9 L233.6 192.3 L234.1 192.7 L234.6 193.0 L235.1 193.4 L235.6 193.7 L236.1 194.0 L236.6 194.3 L237.1 194.6 L237.6 194.8 L238.1 195.1 L238.6 195.3 L239.1 195.6 L239.6 195.8 L240.1 196.0 L240.6 196.3 L241.1 196.5 L241.6 196.7 L242.1 196.9 L242.6 197.2 L243.1 197.4 L243.6 197.6 L244.1 197.9 L244.6 198.1 L245.1 198.4 L245.6 198.6 L246.1 198.9 L246.6 199.1 L247.1 199.4 L247.6 199.7 L248.1 199.9 L248.6 200.1 L249.1 200.4 L249.6 200.6 L250.1 200.9 L250.6 201.1 L251.1 201.3 L251.6 201.6 L252.1 201.9 L252.6 202.1 L253.1 202.4 L253.6 202.7 L254.1 203.0 L254.6 203.3 L255.1 203.6 L255.6 203.9 L256.1 204.2 L256.6 204.5 L257.1 204.9 L257.6 205.2 L258.1 205.5 L258.6 205.8 L259.1 206.1 L259.6 206.4 L260.1 206.7 L260.6 207.0 L261.1 207.2 L261.6 207.5 L262.1 207.7 L262.6 207.9 L263.1 208.1 L263.6 208.2 L264.1 208.4 L264.6 208.5 L265.1 208.6 L265.6 208.8 L266.1 208.9 L266.6 209.0 L267.1 209.1 L267.6 209.2 L268.1 209.3 L268.6 209.4 L269.1 209.5 L269.6 209.6 L270.1 209.7 L270.6 209.8 L271.1 210.0 L271.6 210.1 L272.1 210.2 L272.6 210.4 L273.1 210.5 L273.6 210.7 L274.1 210.9 L274.6 211.0 L275.1 211.2 L275.6 211.4 L276.1 211.6 L276.6 211.8 L277.1 212.0 L277.6 212.2 L278.1 212.4 L278.6 212.6 L279.1 212.9 L279.6 213.1 L280.1 213.3 L280.6 213.6 L281.1 213.8 L281.6 214.0 L282.1 214.3 L282.6 214.5 L283.1 214.8 L283.6 215.0 L284.1 215.3 L284.6 215.5 L285.1 215.8 L285.6 216.0 L286.1 216.3 L286.6 216.5 L287.1 216.8 L287.6 217.0 L288.1 217.3 L288.6 217.5 L289.1 217.8 L289.6 218.0 L290.1 218.2 L290.6 218.4 L291.1 218.7 L291.6 218.8 L292.1 219.0 L292.6 219.2 L293.1 219.4 L293.6 219.5 L294.1 219.7 L294.6 219.8 L295.1 220.0 L295.6 220.1 L296.1 220.2 L296.6 220.3 L297.1 220.4 L297.6 220.5 L298.1 220.6 L298.6 220.7 L299.1 220.8 L299.6 220.9 L300.1 221.0 L300.6 221.0 L301.1 221.1 L301.6 221.2 L302.1 221.2 L302.6 221.3 L303.1 221.3 L303.6 221.3 L304.1 221.4 L304.6 221.4 L305.1 221.4 L305.6 221.4 L306.1 221.4 L306.6 221.5 L307.1 221.5 L307.6 221.5 L308.1 221.5 L308.6 221.5 L309.1 221.5 L309.6 221.5 L310.1 221.4 L310.6 221.4 L311.1 221.4 L311.6 221.4 L312.1 221.4 L312.6 221.4 L313.1 221.4 L313.6 221.4 L314.1 221.4 L314.6 221.4 L315.1 221.4 L315.6 221.4 L316.1 221.4 L316.6 221.4 L317.1 221.4 L317.6 221.4 L318.1 221.4 L318.6 221.4 L319.1 221.4 L319.6 221.4 L320.1 221.4 L320.6 221.4 L321.1 221.4 L321.6 221.4 L322.1 221.4 L322.6 221.4 L323.1 221.5 L323.6 221.5 L324.1 221.5 L324.6 221.5 L325.1 221.5 L325.6 221.5 L326.1 221.5 L326.6 221.5 L327.1 221.6 L327.6 221.6 L328.1 221.6 L328.6 221.6 L329.1 221.6 L329.6 221.6 L330.1 221.7 L330.6 221.7 L331.1 221.7 L331.6 221.7 L332.1 221.7 L332.6 221.8 L333.1 221.8 L333.6 221.8 L334.1 221.8 L334.6 221.9 L335.1 221.9 L335.6 221.9 L336.1 221.9 L336.6 222.0 L337.1 222.0 L337.6 222.0 L338.1 222.0 L338.6 222.1 L339.1 222.1 L339.6 222.1 L340.1 222.1 L340.6 222.2 L341.1 222.2 L341.5 222.2" stroke="#ff00ff" stroke-width="2.0" stroke-dasharray="6.6 4.8" stroke-dashoffset="0.8"/>
<path d="M27.6 222.3 L28.1 222.2 L28.6 222.1 L29.1 222.0 L29.6 222.0 L30.1 221.9 L30.6 221.9 L31.1 221.9 L31.6 221.9 L32.1 221.9 L32.6 221.9 L33.1 222.0 L33.6 222.0 L34.1 222.0 L34.6 222.0 L35.1 222.1 L35.6 222.1 L36.1 222.1 L36.6 222.1 L37.1 222.1 L37.6 222.1 L38.1 222.1 L38.6 222.1 L39.1 222.1 L39.6 222.0 L40.1 221.9 L40.6 221.8 L41.1 221.7 L41.6 221.5 L42.1 221.4 L42.6 221.2 L43.1 220.9 L43.6 220.7 L44.1 220.4 L44.6 220.0 L45.1 219.7 L45.6 219.3 L46.1 218.9 L46.6 218.4 L47.1 217.9 L47.6 217.4 L48.1 216.8 L48.6 216.2 L49.1 215.5 L49.6 214.9 L50.1 214.2 L50.6 213.5 L51.1 212.8 L51.6 212.0 L52.1 211.3 L52.6 210.5 L53.1 209.7 L53.6 208.9 L54.1 208.0 L54.6 207.2 L55.1 206.3 L55.6 205.3 L56.1 204.4 L56.6 203.4 L57.1 202.5 L57.6 201.5 L58.1 200.6 L58.6 199.8 L59.1 198.9 L59.6 198.1 L60.1 197.3 L60.6 196.5 L61.1 195.7 L61.6 194.9 L62.1 194.1 L62.6 193.3 L63.1 192.5 L63.6 191.6 L64.1 190.7 L64.6 189.8 L65.1 188.9 L65.6 187.9 L66.1 186.8 L66.6 185.8 L67.1 184.7 L67.6 183.6 L68.1 182.4 L68.6 181.3 L69.1 180.1 L69.6 179.0 L70.1 177.9 L70.6 176.8 L71.1 175.8 L71.6 174.8 L72.1 173.9 L72.6 173.1 L73.1 172.3 L73.6 171.5 L74.1 170.8 L74.6 170.2 L75.1 169.6 L75.6 169.1 L76.1 168.6 L76.6 168.2 L77.1 167.8 L77.6 167.4 L78.1 167.1 L78.6 166.8 L79.1 166.6 L79.6 166.4 L80.1 166.1 L80.6 165.9 L81.1 165.8 L81.6 165.6 L82.1 165.5 L82.6 165.3 L83.1 165.2 L83.6 165.1 L84.1 165.0 L84.6 164.9 L85.1 164.9 L85.6 164.8 L86.1 164.8 L86.6 164.8 L87.1 164.8 L87.6 164.8 L88.1 164.8 L88.6 164.9 L89.1 164.9 L89.6 165.0 L90.1 165.0 L90.6 165.1 L91.1 165.2 L91.6 165.2 L92.1 165.3 L92.6 165.4 L93.1 165.4 L93.6 165.5 L94.1 165.6 L94.6 165.7 L95.1 165.7 L95.6 165.8 L96.1 165.8 L96.6 165.9 L97.1 165.9 L97.6 166.0 L98.1 166.0 L98.6 166.0 L99.1 166.0 L99.6 166.0 L100.1 166.0 L100.6 166.0 L101.1 166.0 L101.6 165.9 L102.1 165.9 L102.6 165.8 L103.1 165.8 L103.6 165.7 L104.1 165.7 L104.6 165.6 L105.1 165.5 L105.6 165.4 L106.1 165.2 L106.6 165.1 L107.1 165.0 L107.6 164.8 L108.1 164.6 L108.6 164.4 L109.1 164.3 L109.6 164.1 L110.1 163.9 L110.6 163.6 L111.1 163.4 L111.6 163.2 L112.1 163.0 L112.6 162.9 L113.1 162.7 L113.6 162.5 L114.1 162.3 L114.6 162.1 L115.1 162.0 L115.6 161.8 L116.1 161.7 L116.6 161.5 L117.1 161.3 L117.6 161.2 L118.1 161.0 L118.6 160.9 L119.1 160.8 L119.6 160.6 L120.1 160.5 L120.6 160.3 L121.1 160.2 L121.6 160.0 L122.1 159.9 L122.6 159.8 L123.1 159.6 L123.6 159.4 L124.1 159.3 L124.6 159.1 L125.1 158.9 L125.6 158.7 L126.1 158.4 L126.6 158.2 L127.1 157.9 L127.6 157.6 L128.1 157.3 L128.6 157.0 L129.1 156.6 L129.6 156.3 L130.1 155.9 L130.6 155.5 L131.1 155.0 L131.6 154.6 L132.1 154.1 L132.6 153.6 L133.1 153.1 L133.6 152.5 L134.1 152.0 L134.6 151.4 L135.1 150.8 L135.6 150.2 L136.1 149.6 L136.6 148.9 L137.1 148.3 L137.6 147.6 L138.1 146.9 L138.6 146.2 L139.1 145.5 L139.6 144.8 L140.1 144.1 L140.6 143.4 L141.1 142.6 L141.6 141.8 L142.1 141.1 L142.6 140.3 L143.1 139.5 L143.6 138.7 L144.1 137.8 L144.6 137.0 L145.1 136.1 L145.6 135.2 L146.1 134.2 L146.6 133.2 L147.1 132.2 L147.6 131.1 L148.1 130.0 L148.6 128.8 L149.1 127.5 L149.6 126.1 L150.1 124.7 L150.6 123.2 L151.1 121.7 L151.6 120.0 L152.1 118.3 L152.6 116.5 L153.1 114.7 L153.6 112.9 L154.1 111.1 L154.6 109.3 L155.1 107.6 L155.6 105.9 L156.1 104.2 L156.6 102.5 L157.1 100.7 L157.6 98.9 L158.1 97.0 L158.6 95.0 L159.1 92.9 L159.6 90.8 L160.1 88.6 L160.6 86.4 L161.1 84.2 L161.6 82.0 L162.1 79.8 L162.6 77.7 L163.1 75.6 L163.6 73.5 L164.1 71.6 L164.6 69.8 L165.1 68.1 L165.6 66.4 L166.1 64.8 L166.6 63.2 L167.1 61.6 L167.6 60.0 L168.1 58.3 L168.6 56.6 L169.1 54.9 L169.6 53.3 L170.1 51.8 L170.6 50.5 L171.1 49.3 L171.6 48.4 L172.1 47.6 L172.6 46.9 L173.1 46.4 L173.6 46.0 L174.1 45.7 L174.6 45.5 L175.1 45.4 L175.6 45.4 L176.1 45.5 L176.6 45.8 L177.1 46.1 L177.6 46.5 L178.1 47.0 L178.6 47.7 L179.1 48.4 L179.6 49.2 L180.1 50.1 L180.6 51.1 L181.1 52.2 L181.6 53.4 L182.1 54.6 L182.6 55.9 L183.1 57.3 L183.6 58.8 L184.1 60.3 L184.6 61.9 L185.1 63.6 L185.6 65.3 L186.1 67.0 L186.6 68.7 L187.1 70.4 L187.6 72.0 L188.1 73.7 L188.6 75.4 L189.1 77.1 L189.6 78.7 L190.1 80.3 L190.6 81.9 L191.1 83.5 L191.6 85.1 L192.1 86.6 L192.6 88.1 L193.1 89.5 L193.6 90.8 L194.1 92.1 L194.6 93.3 L195.1 94.5 L195.6 95.7 L196.1 96.9 L196.6 98.1 L197.1 99.3 L197.6 100.5 L198.1 101.7 L198.6 102.9 L199.1 104.0 L199.6 105.0 L200.1 106.0 L200.6 106.8 L201.1 107.5 L201.6 108.3 L202.1 109.0 L202.6 109.8 L203.1 110.6 L203.6 111.6 L204.1 112.7 L204.6 114.0 L205.1 115.3 L205.6 116.6 L206.1 117.9 L206.6 119.3 L207.1 120.7 L207.6 122.0 L208.1 123.4 L208.6 124.7 L209.1 126.0 L209.6 127.4 L210.1 128.7 L210.6 130.1 L211.1 131.7 L211.6 133.4 L212.1 135.2 L212.6 137.1 L213.1 139.1 L213.6 141.2 L214.1 143.2 L214.6 145.3 L215.1 147.2 L215.6 149.1 L216.1 150.9 L216.6 152.6 L217.1 154.2 L217.6 155.7 L218.1 157.1 L218.6 158.4 L219.1 159.7 L219.6 161.0 L220.1 162.3 L220.6 163.5 L221.1 164.7 L221.6 165.9 L222.1 167.1 L222.6 168.3 L223.1 169.5 L223.6 170.7 L224.1 172.0 L224.6 173.3 L225.1 174.5 L225.6 175.7 L226.1 176.9 L226.6 178.1 L227.1 179.2 L227.6 180.2 L228.1 181.1 L228.6 182.0 L229.1 182.8 L229.6 183.5 L230.1 184.2 L230.6 184.8 L231.1 185.3 L231.6 185.8 L232.1 186.3 L232.6 186.7 L233.1 187.1 L233.6 187.4 L234.1 187.7 L234.6 188.0 L235.1 188.3 L235.6 188.6 L236.1 188.9 L236.6 189.1 L237.1 189.4 L237.6 189.6 L238.1 189.8 L238.6 190.1 L239.1 190.3 L239.6 190.6 L240.1 190.9 L240.6 191.1 L241.1 191.4 L241.6 191.7 L242.1 192.1 L242.6 192.4 L243.1 192.7 L243.6 193.1 L244.1 193.4 L244.6 193.8 L245.1 194.2 L245.6 194.5 L246.1 194.9 L246.6 195.3 L247.1 195.7 L247.6 196.1 L248.1 196.5 L248.6 196.9 L249.1 197.3 L249.6 197.7 L250.1 198.1 L250.6 198.5 L251.1 198.9 L251.6 199.3 L252.1 199.7 L252.6 200.1 L253.1 200.5 L253.6 200.8 L254.1 201.2 L254.6 201.5 L255.1 201.9 L255.6 202.2 L256.1 202.6 L256.6 202.9 L257.1 203.2 L257.6 203.5 L258.1 203.8 L258.6 204.1 L259.1 204.4 L259.6 204.6 L260.1 204.9 L260.6 205.1 L261.1 205.3 L261.6 205.6 L262.1 205.8 L262.6 205.9 L263.1 206.1 L263.6 206.3 L264.1 206.4 L264.6 206.6 L265.1 206.7 L265.6 206.9 L266.1 207.0 L266.6 207.1 L267.1 207.3 L267.6 207.4 L268.1 207.5 L268.6 207.6 L269.1 207.8 L269.6 207.9 L270.1 208.0 L270.6 208.2 L271.1 208.3 L271.6 208.5 L272.1 208.6 L272.6 208.8 L273.1 209.0 L273.6 209.1 L274.1 209.3 L274.6 209.5 L275.1 209.7 L275.6 209.9 L276.1 210.1 L276.6 210.3 L277.1 210.5 L277.6 210.7 L278.1 210.9 L278.6 211.1 L279.1 211.4 L279.6 211.6 L280.1 211.8 L280.6 212.1 L281.1 212.3 L281.6 212.5 L282.1 212.8 L282.6 213.0 L283.1 213.3 L283.6 213.5 L284.1 213.7 L284.6 214.0 L285.1 214.2 L285.6 214.5 L286.1 214.7 L286.6 215.0 L287.1 215.2 L287.6 215.4 L288.1 215.7 L288.6 215.9 L289.1 216.1 L289.6 216.3 L290.1 216.5 L290.6 216.8 L291.1 217.0 L291.6 217.2 L292.1 217.4 L292.6 217.5 L293.1 217.7 L293.6 217.9 L294.1 218.0 L294.6 218.2 L295.1 218.3 L295.6 218.5 L296.1 218.6 L296.6 218.7 L297.1 218.8 L297.6 218.9 L298.1 219.0 L298.6 219.0 L299.1 219.1 L299.6 219.1 L300.1 219.2 L300.6 219.2 L301.1 219.2 L301.6 219.3 L302.1 219.3 L302.6 219.3 L303.1 219.3 L303.6 219.3 L304.1 219.2 L304.6 219.2 L305.1 219.2 L305.6 219.2 L306.1 219.2 L306.6 219.1 L307.1 219.1 L307.6 219.1 L308.1 219.0 L308.6 219.0 L309.1 219.0 L309.6 219.0 L310.1 218.9 L310.6 218.9 L311.1 218.9 L311.6 218.9 L312.1 218.9 L312.6 218.9 L313.1 218.8 L313.6 218.8 L314.1 218.9 L314.6 218.9 L315.1 218.9 L315.6 218.9 L316.1 218.9 L316.6 219.0 L317.1 219.0 L317.6 219.1 L318.1 219.1 L318.6 219.2 L319.1 219.2 L319.6 219.3 L320.1 219.4 L320.6 219.5 L321.1 219.6 L321.6 219.6 L322.1 219.7 L322.6 219.8 L323.1 219.9 L323.6 220.0 L324.1 220.1 L324.6 220.2 L325.1 220.3 L325.6 220.4 L326.1 220.4 L326.6 220.5 L327.1 220.6 L327.6 220.7 L328.1 220.8 L328.6 220.8 L329.1 220.9 L329.6 221.0 L330.1 221.0 L330.6 221.1 L331.1 221.2 L331.6 221.2 L332.1 221.3 L332.6 221.4 L333.1 221.4 L333.6 221.5 L334.1 221.5 L334.6 221.6 L335.1 221.7 L335.6 221.7 L336.1 221.8 L336.6 221.8 L337.1 221.8 L337.6 221.9 L338.1 221.9 L338.6 222.0 L339.1 222.0 L339.6 222.1 L340.1 222.1 L340.6 222.1 L341.1 222.2 L341.5 222.2" stroke="#000000" stroke-width="2.0"/>
<path d="M27.6 222.3 L28.1 222.3 L28.6 222.3 L29.1 222.2 L29.6 222.2 L30.1 222.2 L30.6 222.2 L31.1 222.2 L31.6 222.1 L32.1 222.1 L32.6 222.1 L33.1 222.0 L33.6 222.0 L34.1 221.9 L34.6 221.8 L35.1 221.7 L35.6 221.7 L36.1 221.6 L36.6 221.4 L37.1 221.3 L37.6 221.2 L38.1 221.0 L38.6 220.9 L39.1 220.7 L39.6 220.4 L40.1 220.1 L40.6 219.8 L41.1 219.5 L41.6 219.1 L42.1 218.6 L42.6 218.1 L43.1 217.6 L43.6 217.0 L44.1 216.4 L44.6 215.8 L45.1 215.1 L45.6 214.4 L46.1 213.7 L46.6 213.0 L47.1 212.3 L47.6 211.5 L48.1 210.7 L48.6 209.9 L49.1 209.0 L49.6 208.1 L50.1 207.2 L50.6 206.3 L51.1 205.3 L51.6 204.4 L52.1 203.4 L52.6 202.4 L53.1 201.4 L53.6 200.4 L54.1 199.2 L54.6 198.0 L55.1 196.7 L55.6 195.3 L56.1 193.8 L56.6 192.3 L57.1 190.7 L57.6 189.1 L58.1 187.5 L58.6 185.9 L59.1 184.3 L59.6 182.8 L60.1 181.3 L60.6 179.8 L61.1 178.3 L61.6 176.8 L62.1 175.3 L62.6 173.8 L63.1 172.2 L63.6 170.6 L64.1 169.0 L64.6 167.4 L65.1 165.8 L65.6 164.3 L66.1 162.7 L66.6 161.3 L67.1 160.0 L67.6 158.8 L68.1 157.7 L68.6 156.7 L69.1 155.8 L69.6 154.9 L70.1 154.2 L70.6 153.5 L71.1 152.9 L71.6 152.3 L72.1 151.8 L72.6 151.4 L73.1 150.9 L73.6 150.6 L74.1 150.3 L74.6 150.0 L75.1 149.7 L75.6 149.5 L76.1 149.3 L76.6 149.2 L77.1 149.1 L77.6 149.0 L78.1 148.9 L78.6 148.9 L79.1 148.8 L79.6 148.8 L80.1 148.8 L80.6 148.8 L81.1 148.9 L81.6 148.9 L82.1 149.0 L82.6 149.1 L83.1 149.2 L83.6 149.3 L84.1 149.4 L84.6 149.4 L85.1 149.5 L85.6 149.5 L86.1 149.5 L86.6 149.5 L87.1 149.4 L87.6 149.3 L88.1 149.2 L88.6 149.1 L89.1 148.9 L89.6 148.7 L90.1 148.5 L90.6 148.3 L91.1 148.2 L91.6 148.0 L92.1 147.8 L92.6 147.6 L93.1 147.4 L93.6 147.1 L94.1 146.8 L94.6 146.4 L95.1 145.9 L95.6 145.3 L96.1 144.7 L96.6 143.9 L97.1 143.1 L97.6 142.3 L98.1 141.3 L98.6 140.3 L99.1 139.2 L99.6 138.1 L100.1 137.0 L100.6 135.8 L101.1 134.7 L101.6 133.5 L102.1 132.4 L102.6 131.3 L103.1 130.2 L103.6 129.1 L104.1 128.0 L104.6 126.8 L105.1 125.6 L105.6 124.4 L106.1 123.2 L106.6 122.0 L107.1 120.7 L107.6 119.4 L108.1 118.0 L108.6 116.6 L109.1 115.1 L109.6 113.5 L110.1 112.0 L110.6 110.6 L111.1 109.2 L111.6 108.0 L112.1 106.9 L112.6 105.9 L113.1 104.9 L113.6 103.9 L114.1 102.9 L114.6 101.9 L115.1 100.9 L115.6 100.0 L116.1 99.1 L116.6 98.4 L117.1 97.7 L117.6 97.1 L118.1 96.6 L118.6 96.2 L119.1 95.9 L119.6 95.7 L120.1 95.6 L120.6 95.6 L121.1 95.7 L121.6 95.9 L122.1 96.2 L122.6 96.5 L123.1 96.9 L123.6 97.4 L124.1 98.0 L124.6 98.6 L125.1 99.3 L125.6 100.1 L126.1 100.8 L126.6 101.7 L127.1 102.5 L127.6 103.4 L128.1 104.3 L128.6 105.2 L129.1 106.2 L129.6 107.1 L130.1 108.1 L130.6 109.1 L131.1 110.0 L131.6 111.0 L132.1 111.9 L132.6 112.8 L133.1 113.7 L133.6 114.6 L134.1 115.5 L134.6 116.3 L135.1 117.2 L135.6 117.9 L136.1 118.7 L136.6 119.4 L137.1 120.1 L137.6 120.8 L138.1 121.4 L138.6 122.0 L139.1 122.6 L139.6 123.1 L140.1 123.6 L140.6 124.1 L141.1 124.5 L141.6 124.9 L142.1 125.3 L142.6 125.6 L143.1 125.9 L143.6 126.2 L144.1 126.4 L144.6 126.5 L145.1 126.6 L145.6 126.7 L146.1 126.7 L146.6 126.6 L147.1 126.5 L147.6 126.3 L148.1 125.9 L148.6 125.5 L149.1 124.9 L149.6 124.1 L150.1 123.2 L150.6 122.3 L151.1 121.2 L151.6 120.0 L152.1 118.7 L152.6 117.4 L153.1 116.1 L153.6 114.7 L154.1 113.3 L154.6 111.8 L155.1 110.2 L155.6 108.7 L156.1 107.1 L156.6 105.4 L157.1 103.6 L157.6 101.7 L158.1 99.6 L158.6 97.2 L159.1 94.8 L159.6 92.2 L160.1 89.6 L160.6 87.0 L161.1 84.5 L161.6 82.1 L162.1 79.7 L162.6 77.4 L163.1 75.2 L163.6 72.9 L164.1 70.6 L164.6 68.3 L165.1 66.0 L165.6 63.8 L166.1 61.6 L166.6 59.6 L167.1 57.7 L167.6 55.8 L168.1 53.9 L168.6 52.0 L169.1 49.9 L169.6 47.6 L170.1 45.2 L170.6 42.6 L171.1 40.2 L171.6 37.8 L172.1 35.7 L172.6 34.0 L173.1 32.6 L173.6 31.5 L174.1 30.6 L174.6 29.9 L175.1 29.4 L175.6 29.0 L176.1 28.8 L176.6 28.8 L177.1 29.0 L177.6 29.4 L178.1 30.0 L178.6 30.8 L179.1 31.8 L179.6 32.9 L180.1 34.3 L180.6 35.8 L181.1 37.5 L181.6 39.3 L182.1 41.1 L182.6 42.9 L183.1 44.7 L183.6 46.3 L184.1 48.0 L184.6 50.0 L185.1 52.6 L185.6 55.6 L186.1 58.6 L186.6 61.0 L187.1 63.0 L187.6 64.7 L188.1 66.2 L188.6 67.7 L189.1 69.2 L189.6 70.8 L190.1 72.5 L190.6 74.2 L191.1 75.9 L191.6 77.6 L192.1 79.3 L192.6 81.0 L193.1 82.6 L193.6 84.2 L194.1 85.8 L194.6 87.3 L195.1 88.8 L195.6 90.3 L196.1 91.8 L196.6 93.2 L197.1 94.6 L197.6 96.0 L198.1 97.3 L198.6 98.5 L199.1 99.7 L199.6 100.8 L200.1 101.9 L200.6 103.0 L201.1 104.1 L201.6 105.3 L202.1 106.6 L202.6 107.9 L203.1 109.3 L203.6 110.7 L204.1 112.1 L204.6 113.5 L205.1 114.9 L205.6 116.3 L206.1 117.8 L206.6 119.3 L207.1 120.8 L207.6 122.4 L208.1 123.9 L208.6 125.3 L209.1 126.6 L209.6 128.0 L210.1 129.3 L210.6 130.8 L211.1 132.3 L211.6 134.0 L212.1 135.8 L212.6 137.7 L213.1 139.6 L213.6 141.6 L214.1 143.5 L214.6 145.5 L215.1 147.4 L215.6 149.2 L216.1 150.8 L216.6 152.4 L217.1 153.9 L217.6 155.3 L218.1 156.7 L218.6 158.0 L219.1 159.2 L219.6 160.5 L220.1 161.7 L220.6 162.9 L221.1 164.2 L221.6 165.4 L222.1 166.6 L222.6 167.8 L223.1 169.0 L223.6 170.2 L224.1 171.5 L224.6 172.7 L225.1 173.9 L225.6 175.1 L226.1 176.2 L226.6 177.3 L227.1 178.3 L227.6 179.2 L228.1 180.0 L228.6 180.7 L229.1 181.3 L229.6 181.9 L230.1 182.4 L230.6 182.8 L231.1 183.3 L231.6 183.7 L232.1 184.1 L232.6 184.5 L233.1 184.8 L233.6 185.2 L234.1 185.5 L234.6 185.8 L235.1 186.1 L235.6 186.3 L236.1 186.6 L236.6 186.8 L237.1 187.1 L237.6 187.4 L238.1 187.6 L238.6 187.9 L239.1 188.2 L239.6 188.5 L240.1 188.8 L240.6 189.1 L241.1 189.4 L241.6 189.8 L242.1 190.1 L242.6 190.5 L243.1 190.9 L243.6 191.2 L244.1 191.6 L244.6 192.0 L245.1 192.4 L245.6 192.8 L246.1 193.2 L246.6 193.6 L247.1 194.0 L247.6 194.4 L248.1 194.8 L248.6 195.3 L249.1 195.7 L249.6 196.2 L250.1 196.7 L250.6 197.2 L251.1 197.8 L251.6 198.4 L252.1 199.0 L252.6 199.5 L253.1 200.1 L253.6 200.6 L254.1 201.1 L254.6 201.6 L255.1 202.0 L255.6 202.4 L256.1 202.8 L256.6 203.2 L257.1 203.5 L257.6 203.8 L258.1 204.1 L258.6 204.4 L259.1 204.6 L259.6 204.9 L260.1 205.1 L260.6 205.3 L261.1 205.6 L261.6 205.8 L262.1 206.0 L262.6 206.1 L263.1 206.3 L263.6 206.5 L264.1 206.7 L264.6 206.8 L265.1 207.0 L265.6 207.2 L266.1 207.3 L266.6 207.5 L267.1 207.6 L267.6 207.8 L268.1 207.9 L268.6 208.1 L269.1 208.2 L269.6 208.4 L270.1 208.5 L270.6 208.7 L271.1 208.8 L271.6 209.0 L272.1 209.2 L272.6 209.3 L273.1 209.5 L273.6 209.7 L274.1 209.9 L274.6 210.0 L275.1 210.2 L275.6 210.4 L276.1 210.6 L276.6 210.8 L277.1 211.0 L277.6 211.2 L278.1 211.4 L278.6 211.6 L279.1 211.8 L279.6 212.1 L280.1 212.3 L280.6 212.5 L281.1 212.8 L281.6 213.0 L282.1 213.2 L282.6 213.5 L283.1 213.7 L283.6 213.9 L284.1 214.2 L284.6 214.4 L285.1 214.7 L285.6 214.9 L286.1 215.1 L286.6 215.4 L287.1 215.6 L287.6 215.8 L288.1 216.0 L288.6 216.2 L289.1 216.5 L289.6 216.7 L290.1 216.9 L290.6 217.1 L291.1 217.2 L291.6 217.4 L292.1 217.6 L292.6 217.8 L293.1 217.9 L293.6 218.1 L294.1 218.2 L294.6 218.3 L295.1 218.4 L295.6 218.5 L296.1 218.6 L296.6 218.7 L297.1 218.8 L297.6 218.8 L298.1 218.9 L298.6 218.9 L299.1 218.9 L299.6 219.0 L300.1 219.0 L300.6 219.0 L301.1 219.0 L301.6 219.0 L302.1 219.0 L302.6 219.0 L303.1 219.0 L303.6 219.0 L304.1 219.0 L304.6 219.0 L305.1 219.0 L305.6 218.9 L306.1 218.9 L306.6 218.9 L307.1 218.9 L307.6 218.9 L308.1 218.8 L308.6 218.8 L309.1 218.8 L309.6 218.8 L310.1 218.7 L310.6 218.7 L311.1 218.7 L311.6 218.7 L312.1 218.7 L312.6 218.7 L313.1 218.6 L313.6 218.6 L314.1 218.7 L314.6 218.7 L315.1 218.7 L315.6 218.7 L316.1 218.7 L316.6 218.8 L317.1 218.8 L317.6 218.9 L318.1 218.9 L318.6 219.0 L319.1 219.1 L319.6 219.1 L320.1 219.2 L320.6 219.3 L321.1 219.4 L321.6 219.5 L322.1 219.6 L322.6 219.7 L323.1 219.8 L323.6 219.9 L324.1 220.0 L324.6 220.1 L325.1 220.2 L325.6 220.3 L326.1 220.3 L326.6 220.4 L327.1 220.5 L327.6 220.6 L328.1 220.7 L328.6 220.7 L329.1 220.8 L329.6 220.9 L330.1 221.0 L330.6 221.0 L331.1 221.1 L331.6 221.2 L332.1 221.2 L332.6 221.3 L333.1 221.3 L333.6 221.4 L334.1 221.4 L334.6 221.5 L335.1 221.6 L335.6 221.6 L336.1 221.7 L336.6 221.7 L337.1 221.8 L337.6 221.8 L338.1 221.9 L338.6 221.9 L339.1 222.0 L339.6 222.0 L340.1 222.1 L340.6 222.1 L341.1 222.2 L341.5 222.2" stroke="#bc8f8f" stroke-width="1.1"/>
<path d="M27.6 222.3 L28.1 222.2 L28.6 222.1 L29.1 222.0 L29.6 222.0 L30.1 221.9 L30.6 221.9 L31.1 221.9 L31.6 221.9 L32.1 221.9 L32.6 221.9 L33.1 221.9 L33.6 221.9 L34.1 222.0 L34.6 222.0 L35.1 222.0 L35.6 222.0 L36.1 222.0 L36.6 222.0 L37.1 222.0 L37.6 222.0 L38.1 221.9 L38.6 221.9 L39.1 221.8 L39.6 221.7 L40.1 221.6 L40.6 221.4 L41.1 221.2 L41.6 221.0 L42.1 220.8 L42.6 220.5 L43.1 220.2 L43.6 219.9 L44.1 219.5 L44.6 219.1 L45.1 218.7 L45.6 218.2 L46.1 217.7 L46.6 217.1 L47.1 216.5 L47.6 215.9 L48.1 215.2 L48.6 214.5 L49.1 213.7 L49.6 212.9 L50.1 212.1 L50.6 211.2 L51.1 210.3 L51.6 209.4 L52.1 208.5 L52.6 207.5 L53.1 206.6 L53.6 205.7 L54.1 204.7 L54.6 203.8 L55.1 202.9 L55.6 201.9 L56.1 200.9 L56.6 199.9 L57.1 198.9 L57.6 197.8 L58.1 196.8 L58.6 195.7 L59.1 194.6 L59.6 193.6 L60.1 192.6 L60.6 191.6 L61.1 190.6 L61.6 189.7 L62.1 188.8 L62.6 187.9 L63.1 187.0 L63.6 186.1 L64.1 185.2 L64.6 184.3 L65.1 183.4 L65.6 182.5 L66.1 181.5 L66.6 180.6 L67.1 179.7 L67.6 178.8 L68.1 177.9 L68.6 177.0 L69.1 176.2 L69.6 175.3 L70.1 174.5 L70.6 173.7 L71.1 172.9 L71.6 172.2 L72.1 171.4 L72.6 170.7 L73.1 170.0 L73.6 169.3 L74.1 168.6 L74.6 168.0 L75.1 167.4 L75.6 166.7 L76.1 166.2 L76.6 165.6 L77.1 165.1 L77.6 164.6 L78.1 164.2 L78.6 163.8 L79.1 163.4 L79.6 163.0 L80.1 162.7 L80.6 162.3 L81.1 162.0 L81.6 161.8 L82.1 161.5 L82.6 161.2 L83.1 161.0 L83.6 160.7 L84.1 160.5 L84.6 160.3 L85.1 160.0 L85.6 159.8 L86.1 159.6 L86.6 159.4 L87.1 159.1 L87.6 158.9 L88.1 158.6 L88.6 158.3 L89.1 158.1 L89.6 157.8 L90.1 157.4 L90.6 157.1 L91.1 156.7 L91.6 156.3 L92.1 155.9 L92.6 155.4 L93.1 154.9 L93.6 154.4 L94.1 153.8 L94.6 153.3 L95.1 152.7 L95.6 152.1 L96.1 151.5 L96.6 150.9 L97.1 150.3 L97.6 149.8 L98.1 149.3 L98.6 148.8 L99.1 148.4 L99.6 148.1 L100.1 147.7 L100.6 147.3 L101.1 146.8 L101.6 146.2 L102.1 145.3 L102.6 144.3 L103.1 143.1 L103.6 141.9 L104.1 140.5 L104.6 139.2 L105.1 137.8 L105.6 136.4 L106.1 135.0 L106.6 133.6 L107.1 132.2 L107.6 130.9 L108.1 129.6 L108.6 128.3 L109.1 127.1 L109.6 125.9 L110.1 124.8 L110.6 123.7 L111.1 122.7 L111.6 121.7 L112.1 120.7 L112.6 119.7 L113.1 118.8 L113.6 117.8 L114.1 116.9 L114.6 115.9 L115.1 114.9 L115.6 114.0 L116.1 113.1 L116.6 112.2 L117.1 111.4 L117.6 110.7 L118.1 110.1 L118.6 109.6 L119.1 109.2 L119.6 108.9 L120.1 108.7 L120.6 108.7 L121.1 108.8 L121.6 109.0 L122.1 109.3 L122.6 109.7 L123.1 110.1 L123.6 110.7 L124.1 111.3 L124.6 111.9 L125.1 112.6 L125.6 113.4 L126.1 114.2 L126.6 115.0 L127.1 115.8 L127.6 116.6 L128.1 117.5 L128.6 118.4 L129.1 119.2 L129.6 120.1 L130.1 121.0 L130.6 121.8 L131.1 122.7 L131.6 123.5 L132.1 124.3 L132.6 125.1 L133.1 125.8 L133.6 126.5 L134.1 127.2 L134.6 127.8 L135.1 128.4 L135.6 128.9 L136.1 129.4 L136.6 129.9 L137.1 130.2 L137.6 130.6 L138.1 130.9 L138.6 131.2 L139.1 131.4 L139.6 131.6 L140.1 131.7 L140.6 131.9 L141.1 131.9 L141.6 132.0 L142.1 132.0 L142.6 132.0 L143.1 132.0 L143.6 131.9 L144.1 131.8 L144.6 131.6 L145.1 131.4 L145.6 131.2 L146.1 130.8 L146.6 130.4 L147.1 129.9 L147.6 129.4 L148.1 128.8 L148.6 128.2 L149.1 127.6 L149.6 127.0 L150.1 126.4 L150.6 125.8 L151.1 125.2 L151.6 124.5 L152.1 123.7 L152.6 122.8 L153.1 121.6 L153.6 120.1 L154.1 118.3 L154.6 116.4 L155.1 114.4 L155.6 112.2 L156.1 110.1 L156.6 107.9 L157.1 105.8 L157.6 103.5 L158.1 101.0 L158.6 98.4 L159.1 95.5 L159.6 92.4 L160.1 89.2 L160.6 86.0 L161.1 82.8 L161.6 79.6 L162.1 76.5 L162.6 73.6 L163.1 71.0 L163.6 68.5 L164.1 66.2 L164.6 64.0 L165.1 61.8 L165.6 59.5 L166.1 57.0 L166.6 54.3 L167.1 51.4 L167.6 48.5 L168.1 45.5 L168.6 42.6 L169.1 39.8 L169.6 37.3 L170.1 35.2 L170.6 33.3 L171.1 31.7 L171.6 30.2 L172.1 29.0 L172.6 27.8 L173.1 26.8 L173.6 25.9 L174.1 25.2 L174.6 24.6 L175.1 24.2 L175.6 23.9 L176.1 23.8 L176.6 23.8 L177.1 23.9 L177.6 24.3 L178.1 24.8 L178.6 25.6 L179.1 26.6 L179.6 27.9 L180.1 29.3 L180.6 30.7 L181.1 32.1 L181.6 33.6 L182.1 35.1 L182.6 36.7 L183.1 38.6 L183.6 40.6 L184.1 42.9 L184.6 45.5 L185.1 48.4 L185.6 51.6 L186.1 54.8 L186.6 58.0 L187.1 60.8 L187.6 63.3 L188.1 65.5 L188.6 67.5 L189.1 69.3 L189.6 71.0 L190.1 72.6 L190.6 74.2 L191.1 75.7 L191.6 77.2 L192.1 78.8 L192.6 80.3 L193.1 81.9 L193.6 83.5 L194.1 85.2 L194.6 86.8 L195.1 88.4 L195.6 90.0 L196.1 91.5 L196.6 93.0 L197.1 94.3 L197.6 95.6 L198.1 96.9 L198.6 98.1 L199.1 99.2 L199.6 100.3 L200.1 101.3 L200.6 102.4 L201.1 103.5 L201.6 104.7 L202.1 106.1 L202.6 107.5 L203.1 109.1 L203.6 110.7 L204.1 112.3 L204.6 113.8 L205.1 115.3 L205.6 116.7 L206.1 118.2 L206.6 119.5 L207.1 120.9 L207.6 122.2 L208.1 123.5 L208.6 124.7 L209.1 126.0 L209.6 127.3 L210.1 128.7 L210.6 130.1 L211.1 131.7 L211.6 133.4 L212.1 135.2 L212.6 137.1 L213.1 139.1 L213.6 141.2 L214.1 143.2 L214.6 145.3 L215.1 147.2 L215.6 149.1 L216.1 150.9 L216.6 152.6 L217.1 154.2 L217.6 155.6 L218.1 157.1 L218.6 158.4 L219.1 159.7 L219.6 161.0 L220.1 162.3 L220.6 163.5 L221.1 164.8 L221.6 166.0 L222.1 167.2 L222.6 168.3 L223.1 169.5 L223.6 170.7 L224.1 171.9 L224.6 173.0 L225.1 174.2 L225.6 175.3 L226.1 176.4 L226.6 177.4 L227.1 178.4 L227.6 179.4 L228.1 180.3 L228.6 181.1 L229.1 181.9 L229.6 182.6 L230.1 183.3 L230.6 184.0 L231.1 184.6 L231.6 185.1 L232.1 185.6 L232.6 186.1 L233.1 186.5 L233.6 186.9 L234.1 187.3 L234.6 187.6 L235.1 187.9 L235.6 188.2 L236.1 188.5 L236.6 188.8 L237.1 189.0 L237.6 189.2 L238.1 189.5 L238.6 189.7 L239.1 189.9 L239.6 190.2 L240.1 190.5 L240.6 190.7 L241.1 191.0 L241.6 191.3 L242.1 191.6 L242.6 192.0 L243.1 192.3 L243.6 192.6 L244.1 193.0 L244.6 193.4 L245.1 193.7 L245.6 194.1 L246.1 194.5 L246.6 194.9 L247.1 195.3 L247.6 195.7 L248.1 196.1 L248.6 196.6 L249.1 197.0 L249.6 197.4 L250.1 197.8 L250.6 198.2 L251.1 198.6 L251.6 199.0 L252.1 199.5 L252.6 199.9 L253.1 200.2 L253.6 200.6 L254.1 201.0 L254.6 201.4 L255.1 201.7 L255.6 202.1 L256.1 202.4 L256.6 202.8 L257.1 203.1 L257.6 203.4 L258.1 203.7 L258.6 204.0 L259.1 204.3 L259.6 204.6 L260.1 204.9 L260.6 205.1 L261.1 205.4 L261.6 205.7 L262.1 205.9 L262.6 206.1 L263.1 206.4 L263.6 206.6 L264.1 206.8 L264.6 207.0 L265.1 207.2 L265.6 207.4 L266.1 207.6 L266.6 207.8 L267.1 207.9 L267.6 208.1 L268.1 208.3 L268.6 208.4 L269.1 208.6 L269.6 208.8 L270.1 208.9 L270.6 209.1 L271.1 209.2 L271.6 209.4 L272.1 209.5 L272.6 209.7 L273.1 209.9 L273.6 210.0 L274.1 210.2 L274.6 210.3 L275.1 210.5 L275.6 210.7 L276.1 210.9 L276.6 211.0 L277.1 211.2 L277.6 211.4 L278.1 211.6 L278.6 211.8 L279.1 212.0 L279.6 212.3 L280.1 212.5 L280.6 212.7 L281.1 213.0 L281.6 213.2 L282.1 213.5 L282.6 213.7 L283.1 213.9 L283.6 214.2 L284.1 214.4 L284.6 214.7 L285.1 214.9 L285.6 215.1 L286.1 215.3 L286.6 215.6 L287.1 215.8 L287.6 216.0 L288.1 216.1 L288.6 216.3 L289.1 216.5 L289.6 216.7 L290.1 216.8 L290.6 217.0 L291.1 217.2 L291.6 217.3 L292.1 217.5 L292.6 217.6 L293.1 217.8 L293.6 217.9 L294.1 218.1 L294.6 218.3 L295.1 218.4 L295.6 218.6 L296.1 218.8 L296.6 218.9 L297.1 219.1 L297.6 219.3 L298.1 219.4 L298.6 219.6 L299.1 219.7 L299.6 219.8 L300.1 219.9 L300.6 219.9 L301.1 220.0 L301.6 220.0 L302.1 220.0 L302.6 220.0 L303.1 220.0 L303.6 219.9 L304.1 219.9 L304.6 219.8 L305.1 219.8 L305.6 219.7 L306.1 219.6 L306.6 219.5 L307.1 219.4 L307.6 219.4 L308.1 219.3 L308.6 219.2 L309.1 219.1 L309.6 219.1 L310.1 219.0 L310.6 219.0 L311.1 219.0 L311.6 218.9 L312.1 218.9 L312.6 218.9 L313.1 218.9 L313.6 218.9 L314.1 218.9 L314.6 218.9 L315.1 219.0 L315.6 219.0 L316.1 219.1 L316.6 219.1 L317.1 219.2 L317.6 219.3 L318.1 219.4 L318.6 219.5 L319.1 219.6 L319.6 219.7 L320.1 219.9 L320.6 220.0 L321.1 220.1 L321.6 220.2 L322.1 220.3 L322.6 220.5 L323.1 220.6 L323.6 220.7 L324.1 220.8 L324.6 220.9 L325.1 221.0 L325.6 221.0 L326.1 221.1 L326.6 221.2 L327.1 221.2 L327.6 221.2 L328.1 221.3 L328.6 221.3 L329.1 221.3 L329.6 221.3 L330.1 221.3 L330.6 221.3 L331.1 221.3 L331.6 221.3 L332.1 221.3 L332.6 221.3 L333.1 221.3 L333.6 221.3 L334.1 221.3 L334.6 221.3 L335.1 221.3 L335.6 221.3 L336.1 221.4 L336.6 221.4 L337.1 221.4 L337.6 221.5 L338.1 221.5 L338.6 221.6 L339.1 221.7 L339.6 221.7 L340.1 221.8 L340.6 222.0 L341.1 222.1 L341.5 222.2" stroke="#9400d3" stroke-width="1.3"/>
<path d="M27.6 222.3 L28.1 222.2 L28.6 222.1 L29.1 222.1 L29.6 222.0 L30.1 222.0 L30.6 221.9 L31.1 221.9 L31.6 221.9 L32.1 221.9 L32.6 221.9 L33.1 222.0 L33.6 222.0 L34.1 222.0 L34.6 222.0 L35.1 222.1 L35.6 222.1 L36.1 222.1 L36.6 222.1 L37.1 222.1 L37.6 222.1 L38.1 222.1 L38.6 222.1 L39.1 222.1 L39.6 222.0 L40.1 222.0 L40.6 221.9 L41.1 221.8 L41.6 221.7 L42.1 221.6 L42.6 221.4 L43.1 221.3 L43.6 221.1 L44.1 220.8 L44.6 220.6 L45.1 220.3 L45.6 220.0 L46.1 219.6 L46.6 219.2 L47.1 218.7 L47.6 218.2 L48.1 217.7 L48.6 217.1 L49.1 216.4 L49.6 215.7 L50.1 215.0 L50.6 214.3 L51.1 213.5 L51.6 212.8 L52.1 212.1 L52.6 211.3 L53.1 210.6 L53.6 209.9 L54.1 209.1 L54.6 208.4 L55.1 207.6 L55.6 206.8 L56.1 206.0 L56.6 205.2 L57.1 204.3 L57.6 203.5 L58.1 202.6 L58.6 201.7 L59.1 200.9 L59.6 200.0 L60.1 199.1 L60.6 198.3 L61.1 197.4 L61.6 196.5 L62.1 195.6 L62.6 194.7 L63.1 193.8 L63.6 192.8 L64.1 191.9 L64.6 191.0 L65.1 190.0 L65.6 189.1 L66.1 188.2 L66.6 187.4 L67.1 186.5 L67.6 185.7 L68.1 184.9 L68.6 184.0 L69.1 183.2 L69.6 182.5 L70.1 181.7 L70.6 180.9 L71.1 180.2 L71.6 179.5 L72.1 178.8 L72.6 178.1 L73.1 177.4 L73.6 176.8 L74.1 176.1 L74.6 175.5 L75.1 174.9 L75.6 174.3 L76.1 173.6 L76.6 173.0 L77.1 172.4 L77.6 171.8 L78.1 171.3 L78.6 170.7 L79.1 170.1 L79.6 169.6 L80.1 169.0 L80.6 168.5 L81.1 168.0 L81.6 167.5 L82.1 167.1 L82.6 166.6 L83.1 166.2 L83.6 165.7 L84.1 165.3 L84.6 164.9 L85.1 164.5 L85.6 164.1 L86.1 163.6 L86.6 163.2 L87.1 162.8 L87.6 162.3 L88.1 161.9 L88.6 161.4 L89.1 160.9 L89.6 160.4 L90.1 159.9 L90.6 159.4 L91.1 158.8 L91.6 158.2 L92.1 157.6 L92.6 156.9 L93.1 156.2 L93.6 155.5 L94.1 154.8 L94.6 154.1 L95.1 153.4 L95.6 152.6 L96.1 151.9 L96.6 151.2 L97.1 150.6 L97.6 150.0 L98.1 149.5 L98.6 149.1 L99.1 148.7 L99.6 148.2 L100.1 147.5 L100.6 146.5 L101.1 145.1 L101.6 143.3 L102.1 141.3 L102.6 139.1 L103.1 137.1 L103.6 135.2 L104.1 133.5 L104.6 131.9 L105.1 130.3 L105.6 128.8 L106.1 127.2 L106.6 125.6 L107.1 124.1 L107.6 122.5 L108.1 120.9 L108.6 119.4 L109.1 117.8 L109.6 116.2 L110.1 114.7 L110.6 113.2 L111.1 111.7 L111.6 110.3 L112.1 108.9 L112.6 107.6 L113.1 106.4 L113.6 105.2 L114.1 104.1 L114.6 103.0 L115.1 102.0 L115.6 101.1 L116.1 100.2 L116.6 99.5 L117.1 98.9 L117.6 98.4 L118.1 98.0 L118.6 97.8 L119.1 97.6 L119.6 97.6 L120.1 97.6 L120.6 97.7 L121.1 97.8 L121.6 98.0 L122.1 98.3 L122.6 98.7 L123.1 99.1 L123.6 99.6 L124.1 100.1 L124.6 100.7 L125.1 101.4 L125.6 102.1 L126.1 102.9 L126.6 103.7 L127.1 104.6 L127.6 105.4 L128.1 106.3 L128.6 107.2 L129.1 108.2 L129.6 109.1 L130.1 110.1 L130.6 111.0 L131.1 112.0 L131.6 113.0 L132.1 114.0 L132.6 115.0 L133.1 116.0 L133.6 117.0 L134.1 118.1 L134.6 119.1 L135.1 120.2 L135.6 121.3 L136.1 122.4 L136.6 123.4 L137.1 124.5" stroke="#008b00" stroke-width="2.0" stroke-dasharray="6.8 5.7 1.5 5.1 1.5 5.7" stroke-dashoffset="17.6"/>
<path d="M137.1 124.5 L137.6 125.5 L138.1 126.5 L138.6 127.5 L139.1 128.5 L139.6 129.3 L140.1 130.2 L140.6 130.9 L141.1 131.6 L141.6 132.2 L142.1 132.7 L142.6 133.0 L143.1 133.3 L143.6 133.3 L144.1 133.3 L144.6 133.1 L145.1 132.8 L145.6 132.4 L146.1 131.9 L146.6 131.4 L147.1 130.9 L147.6 130.3 L148.1 129.7 L148.6 129.1 L149.1 128.5 L149.6 127.7 L150.1 127.0 L150.6 126.2 L151.1 125.3 L151.6 124.4 L152.1 123.4 L152.6 122.3 L153.1 121.2 L153.6 119.9 L154.1 118.6 L154.6 117.2 L155.1 115.7 L155.6 114.1 L156.1 112.4 L156.6 110.6 L157.1 108.6 L157.6 106.5 L158.1 104.3 L158.6 101.9 L159.1 99.5 L159.6 97.0 L160.1 94.2 L160.6 91.3 L161.1 88.0 L161.6 84.6 L162.1 81.2 L162.6 78.3 L163.1 75.6 L163.6 72.9 L164.1 69.8 L164.6 66.4 L165.1 62.8 L165.6 58.9 L166.1 55.0 L166.6 51.1 L167.1 47.5 L167.6 44.3 L168.1 41.3 L168.6 38.5 L169.1 35.9 L169.6 33.7 L170.1 32.0 L170.6 30.4 L171.1 28.6 L171.6 26.4 L172.1 23.9 L172.6 21.5 L173.1 19.6 L173.6 18.2 L174.1 17.1 L174.6 16.3 L175.1 15.7 L175.6 15.1 L176.1 14.7 L176.6 14.3 L177.1 14.2 L177.6 14.3 L178.1 14.6 L178.6 15.2 L179.1 16.0 L179.6 17.0 L180.1 18.1 L180.6 19.5 L181.1 21.0 L181.6 22.6 L182.1 24.4 L182.6 26.3 L183.1 28.2 L183.6 30.2 L184.1 32.1 L184.6 34.2 L185.1 36.5 L185.6 39.0 L186.1 41.6 L186.6 44.1 L187.1 46.4 L187.6 48.7 L188.1 50.9 L188.6 53.0 L189.1 55.1 L189.6 57.3 L190.1 59.5 L190.6 61.9 L191.1 64.5 L191.6 67.4 L192.1 70.3 L192.6 73.1 L193.1 75.4 L193.6 77.3 L194.1 78.8 L194.6 80.0 L195.1 81.3 L195.6 82.7 L196.1 84.3 L196.6 86.3 L197.1 88.4 L197.6 90.4 L198.1 92.3 L198.6 94.0 L199.1 95.7 L199.6 97.2 L200.1 98.7 L200.6 100.2 L201.1 101.7 L201.6 103.2 L202.1 104.7 L202.6 106.3 L203.1 107.9 L203.6 109.6 L204.1 111.4 L204.6 113.2 L205.1 115.0 L205.6 116.7 L206.1 118.3 L206.6 119.8 L207.1 121.1 L207.6 122.4 L208.1 123.6 L208.6 124.8 L209.1 126.0 L209.6 127.3 L210.1 128.6 L210.6 130.1 L211.1 131.7 L211.6 133.4 L212.1 135.2 L212.6 137.2 L213.1 139.2 L213.6 141.2 L214.1 143.3 L214.6 145.3 L215.1 147.2 L215.6 149.1 L216.1 150.9 L216.6 152.6 L217.1 154.2 L217.6 155.7 L218.1 157.1 L218.6 158.4 L219.1 159.7 L219.6 161.0 L220.1 162.3 L220.6 163.5 L221.1 164.7 L221.6 165.9 L222.1 167.1 L222.6 168.3 L223.1 169.5 L223.6 170.7 L224.1 172.0 L224.6 173.3 L225.1 174.5 L225.6 175.7 L226.1 176.9 L226.6 178.1 L227.1 179.2 L227.6 180.2 L228.1 181.2 L228.6 182.0 L229.1 182.8 L229.6 183.6 L230.1 184.3 L230.6 184.9 L231.1 185.5 L231.6 186.0 L232.1 186.5 L232.6 186.9 L233.1 187.3 L233.6 187.7 L234.1 188.1 L234.6 188.4 L235.1 188.7 L235.6 189.0 L236.1 189.3 L236.6 189.5 L237.1 189.8 L237.6 190.0 L238.1 190.2 L238.6 190.5 L239.1 190.7 L239.6 191.0 L240.1 191.3 L240.6 191.5 L241.1 191.8 L241.6 192.1 L242.1 192.4 L242.6 192.8 L243.1 193.1 L243.6 193.5 L244.1 193.8 L244.6 194.2 L245.1 194.6 L245.6 194.9 L246.1 195.3 L246.6 195.7 L247.1 196.1 L247.6 196.5 L248.1 196.9 L248.6 197.3 L249.1 197.8 L249.6 198.2 L250.1 198.6 L250.6 199.0 L251.1 199.4 L251.6 199.8 L252.1 200.2 L252.6 200.6 L253.1 201.0 L253.6 201.4 L254.1 201.8 L254.6 202.2 L255.1 202.6 L255.6 202.9 L256.1 203.3 L256.6 203.6 L257.1 204.0 L257.6 204.3 L258.1 204.6 L258.6 204.9 L259.1 205.2 L259.6 205.5 L260.1 205.7 L260.6 206.0 L261.1 206.2 L261.6 206.5 L262.1 206.7 L262.6 206.9 L263.1 207.0 L263.6 207.2 L264.1 207.4 L264.6 207.5 L265.1 207.7 L265.6 207.8 L266.1 207.9 L266.6 208.1 L267.1 208.2 L267.6 208.3 L268.1 208.4 L268.6 208.6 L269.1 208.7 L269.6 208.8 L270.1 208.9 L270.6 209.1 L271.1 209.2 L271.6 209.3 L272.1 209.5 L272.6 209.6 L273.1 209.8 L273.6 209.9 L274.1 210.1 L274.6 210.3 L275.1 210.5 L275.6 210.6 L276.1 210.8 L276.6 211.0 L277.1 211.2 L277.6 211.4 L278.1 211.6 L278.6 211.8 L279.1 212.0 L279.6 212.3 L280.1 212.5 L280.6 212.7 L281.1 213.0 L281.6 213.2 L282.1 213.4 L282.6 213.7 L283.1 213.9 L283.6 214.1 L284.1 214.4 L284.6 214.6 L285.1 214.9 L285.6 215.1 L286.1 215.3 L286.6 215.6 L287.1 215.8 L287.6 216.0 L288.1 216.2 L288.6 216.4 L289.1 216.6 L289.6 216.8 L290.1 217.0 L290.6 217.2 L291.1 217.4 L291.6 217.6 L292.1 217.7 L292.6 217.9 L293.1 218.0 L293.6 218.1 L294.1 218.2 L294.6 218.3 L295.1 218.4 L295.6 218.5 L296.1 218.5 L296.6 218.6 L297.1 218.6 L297.6 218.6 L298.1 218.6 L298.6 218.6 L299.1 218.6 L299.6 218.6 L300.1 218.6 L300.6 218.6 L301.1 218.6 L301.6 218.5 L302.1 218.5 L302.6 218.5 L303.1 218.4 L303.6 218.4 L304.1 218.3 L304.6 218.3 L305.1 218.2 L305.6 218.2 L306.1 218.1 L306.6 218.1 L307.1 218.0 L307.6 218.0 L308.1 218.0 L308.6 217.9 L309.1 217.9 L309.6 217.8 L310.1 217.8 L310.6 217.8 L311.1 217.7 L311.6 217.7 L312.1 217.7 L312.6 217.7 L313.1 217.7 L313.6 217.7 L314.1 217.7 L314.6 217.7 L315.1 217.7 L315.6 217.8 L316.1 217.8 L316.6 217.9 L317.1 217.9 L317.6 218.0 L318.1 218.1 L318.6 218.1 L319.1 218.2 L319.6 218.3 L320.1 218.4 L320.6 218.6 L321.1 218.7 L321.6 218.8 L322.1 218.9 L322.6 219.0 L323.1 219.2 L323.6 219.3 L324.1 219.4 L324.6 219.5 L325.1 219.7 L325.6 219.8 L326.1 219.9 L326.6 220.0 L327.1 220.1 L327.6 220.2 L328.1 220.3 L328.6 220.4 L329.1 220.5 L329.6 220.6 L330.1 220.7 L330.6 220.8 L331.1 220.9 L331.6 221.0 L332.1 221.1 L332.6 221.1 L333.1 221.2 L333.6 221.3 L334.1 221.4 L334.6 221.4 L335.1 221.5 L335.6 221.6 L336.1 221.6 L336.6 221.7 L337.1 221.8 L337.6 221.8 L338.1 221.9 L338.6 221.9 L339.1 222.0 L339.6 222.0 L340.1 222.1 L340.6 222.1 L341.1 222.2 L341.5 222.2" stroke="#008b00" stroke-width="2.0" stroke-dasharray="6.8 5.7 1.5 5.1 1.5 5.7" stroke-dashoffset="11.0"/>
</g>
<g><rect x="27.6" y="3.4" width="314.0" height="219.0" fill="none" stroke="#666" stroke-width="1"/><line x1="46.07" y1="222.4" x2="46.07" y2="216.4" stroke="#666" stroke-width="0.9"/><line x1="46.07" y1="3.4" x2="46.07" y2="9.4" stroke="#666" stroke-width="0.9"/><line x1="64.54" y1="222.4" x2="64.54" y2="219.4" stroke="#666" stroke-width="0.9"/><line x1="64.54" y1="3.4" x2="64.54" y2="6.4" stroke="#666" stroke-width="0.9"/><line x1="83.01" y1="222.4" x2="83.01" y2="216.4" stroke="#666" stroke-width="0.9"/><line x1="83.01" y1="3.4" x2="83.01" y2="9.4" stroke="#666" stroke-width="0.9"/><line x1="101.48" y1="222.4" x2="101.48" y2="219.4" stroke="#666" stroke-width="0.9"/><line x1="101.48" y1="3.4" x2="101.48" y2="6.4" stroke="#666" stroke-width="0.9"/><line x1="119.95" y1="222.4" x2="119.95" y2="216.4" stroke="#666" stroke-width="0.9"/><line x1="119.95" y1="3.4" x2="119.95" y2="9.4" stroke="#666" stroke-width="0.9"/><line x1="138.42" y1="222.4" x2="138.42" y2="219.4" stroke="#666" stroke-width="0.9"/><line x1="138.42" y1="3.4" x2="138.42" y2="6.4" stroke="#666" stroke-width="0.9"/><line x1="156.89" y1="222.4" x2="156.89" y2="216.4" stroke="#666" stroke-width="0.9"/><line x1="156.89" y1="3.4" x2="156.89" y2="9.4" stroke="#666" stroke-width="0.9"/><line x1="175.36" y1="222.4" x2="175.36" y2="219.4" stroke="#666" stroke-width="0.9"/><line x1="175.36" y1="3.4" x2="175.36" y2="6.4" stroke="#666" stroke-width="0.9"/><line x1="193.84" y1="222.4" x2="193.84" y2="216.4" stroke="#666" stroke-width="0.9"/><line x1="193.84" y1="3.4" x2="193.84" y2="9.4" stroke="#666" stroke-width="0.9"/><line x1="212.31" y1="222.4" x2="212.31" y2="219.4" stroke="#666" stroke-width="0.9"/><line x1="212.31" y1="3.4" x2="212.31" y2="6.4" stroke="#666" stroke-width="0.9"/><line x1="230.78" y1="222.4" x2="230.78" y2="216.4" stroke="#666" stroke-width="0.9"/><line x1="230.78" y1="3.4" x2="230.78" y2="9.4" stroke="#666" stroke-width="0.9"/><line x1="249.25" y1="222.4" x2="249.25" y2="219.4" stroke="#666" stroke-width="0.9"/><line x1="249.25" y1="3.4" x2="249.25" y2="6.4" stroke="#666" stroke-width="0.9"/><line x1="267.72" y1="222.4" x2="267.72" y2="216.4" stroke="#666" stroke-width="0.9"/><line x1="267.72" y1="3.4" x2="267.72" y2="9.4" stroke="#666" stroke-width="0.9"/><line x1="286.19" y1="222.4" x2="286.19" y2="219.4" stroke="#666" stroke-width="0.9"/><line x1="286.19" y1="3.4" x2="286.19" y2="6.4" stroke="#666" stroke-width="0.9"/><line x1="304.66" y1="222.4" x2="304.66" y2="216.4" stroke="#666" stroke-width="0.9"/><line x1="304.66" y1="3.4" x2="304.66" y2="9.4" stroke="#666" stroke-width="0.9"/><line x1="323.13" y1="222.4" x2="323.13" y2="219.4" stroke="#666" stroke-width="0.9"/><line x1="323.13" y1="3.4" x2="323.13" y2="6.4" stroke="#666" stroke-width="0.9"/><line x1="27.6" y1="185.90" x2="30.6" y2="185.90" stroke="#666" stroke-width="0.9"/><line x1="341.6" y1="185.90" x2="338.6" y2="185.90" stroke="#666" stroke-width="0.9"/><line x1="27.6" y1="149.40" x2="33.6" y2="149.40" stroke="#666" stroke-width="0.9"/><line x1="341.6" y1="149.40" x2="335.6" y2="149.40" stroke="#666" stroke-width="0.9"/><line x1="27.6" y1="112.90" x2="30.6" y2="112.90" stroke="#666" stroke-width="0.9"/><line x1="341.6" y1="112.90" x2="338.6" y2="112.90" stroke="#666" stroke-width="0.9"/><line x1="27.6" y1="76.40" x2="33.6" y2="76.40" stroke="#666" stroke-width="0.9"/><line x1="341.6" y1="76.40" x2="335.6" y2="76.40" stroke="#666" stroke-width="0.9"/><line x1="27.6" y1="39.90" x2="30.6" y2="39.90" stroke="#666" stroke-width="0.9"/><line x1="341.6" y1="39.90" x2="338.6" y2="39.90" stroke="#666" stroke-width="0.9"/></g>
<g><text transform="translate(46.3 232.6) scale(0.96 1)" font-size="9.1" text-anchor="middle">300</text><text transform="translate(83.2 232.6) scale(0.96 1)" font-size="9.1" text-anchor="middle">400</text><text transform="translate(120.2 232.6) scale(0.96 1)" font-size="9.1" text-anchor="middle">500</text><text transform="translate(157.1 232.6) scale(0.96 1)" font-size="9.1" text-anchor="middle">600</text><text transform="translate(194.0 232.6) scale(0.96 1)" font-size="9.1" text-anchor="middle">700</text><text transform="translate(231.0 232.6) scale(0.96 1)" font-size="9.1" text-anchor="middle">800</text><text transform="translate(267.9 232.6) scale(0.96 1)" font-size="9.1" text-anchor="middle">900</text><text transform="translate(304.9 232.6) scale(0.96 1)" font-size="9.1" text-anchor="middle">1000</text><text transform="translate(341.8 232.6) scale(0.96 1)" font-size="9.1" text-anchor="middle">1100</text><text x="24.8" y="225.8" font-size="9.1" text-anchor="end">0</text><text x="24.8" y="152.8" font-size="9.1" text-anchor="end">0.5</text><text x="24.8" y="79.8" font-size="9.1" text-anchor="end">1</text><text x="24.8" y="6.8" font-size="9.1" text-anchor="end">1.5</text></g>
<text transform="translate(184.8 243.7) scale(1.06 1)" font-size="11.2" text-anchor="middle">Photon Energy (eV)</text>
<text transform="translate(8.9 113.2) rotate(-90) scale(1.07 1)" font-size="11.2" text-anchor="middle">Relative Intensity (arb. units)</text>
<g><rect x="247" y="18.3" width="63" height="77" fill="#fff" stroke="#777" stroke-width="1"/><line x1="251.2" y1="25.1" x2="264" y2="25.1" stroke="#ff0000" stroke-width="1.1"/><text x="270.2" y="28.1" font-size="8.8">200 eV/u</text><line x1="251.2" y1="34.3" x2="264" y2="34.3" stroke="#0000ff" stroke-width="1.1"/><text x="270.2" y="37.3" font-size="8.8">300 eV/u</text><line x1="251.2" y1="43.5" x2="264" y2="43.5" stroke="#00ff00" stroke-width="1.1"/><text x="270.2" y="46.5" font-size="8.8">500 eV/u</text><line x1="251.2" y1="52.7" x2="264" y2="52.7" stroke="#ff00ff" stroke-width="2.0" stroke-dasharray="5 3.2"/><text x="270.2" y="55.7" font-size="8.8">700 eV/u</text><line x1="251.2" y1="61.9" x2="264" y2="61.9" stroke="#000000" stroke-width="2.0"/><text x="270.2" y="64.9" font-size="8.8">1000 eV/u</text><line x1="251.2" y1="71.1" x2="264" y2="71.1" stroke="#bc8f8f" stroke-width="1.1"/><text x="270.2" y="74.1" font-size="8.8">2000 eV/u</text><line x1="251.2" y1="80.3" x2="264" y2="80.3" stroke="#9400d3" stroke-width="1.3"/><text x="270.2" y="83.3" font-size="8.8">3000 eV/u</text><line x1="251.2" y1="89.5" x2="264" y2="89.5" stroke="#008b00" stroke-width="2.0" stroke-dasharray="1.5 5 7 5"/><text x="270.2" y="92.5" font-size="8.8">5000 eV/u</text></g>
</svg></body></html>
